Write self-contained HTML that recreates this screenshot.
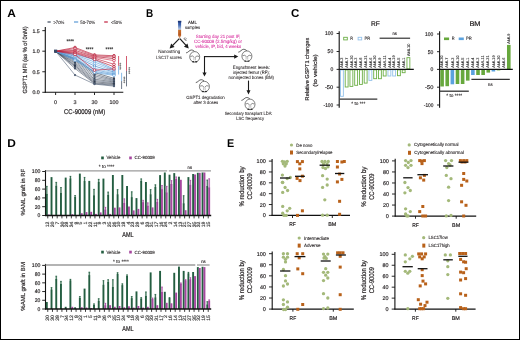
<!DOCTYPE html><html><head><meta charset="utf-8"><style>html,body{margin:0;padding:0;background:#fff;}svg{display:block;will-change:transform;text-rendering:geometricPrecision;font-family:"Liberation Sans",sans-serif;}</style></head><body>
<svg width="520" height="340" viewBox="0 0 520 340">
<rect x="0" y="0" width="520" height="340" fill="#fff"/>
<text x="7.3" y="16.5" font-size="11.4" fill="#000" font-weight="bold" textLength="8.6" lengthAdjust="spacingAndGlyphs">A</text>
<line x1="47.5" y1="22" x2="50.7" y2="22" stroke="#3e4a5e" stroke-width="1.2"/>
<text x="53.4" y="23.6" font-size="4.6" fill="#231f20" textLength="11" lengthAdjust="spacingAndGlyphs" stroke="#231f20" stroke-width="0.07">&gt;70%</text>
<line x1="74" y1="22" x2="78.2" y2="22" stroke="#5a9ad6" stroke-width="1.2"/>
<text x="80.3" y="23.6" font-size="4.6" fill="#231f20" textLength="14.8" lengthAdjust="spacingAndGlyphs" stroke="#231f20" stroke-width="0.07">50-70%</text>
<line x1="104.2" y1="22" x2="107.8" y2="22" stroke="#c01f3c" stroke-width="1.2"/>
<text x="111" y="23.6" font-size="4.6" fill="#231f20" textLength="11" lengthAdjust="spacingAndGlyphs" stroke="#231f20" stroke-width="0.07">&lt;50%</text>
<line x1="45.3" y1="27" x2="45.3" y2="92.8" stroke="#111" stroke-width="1.1"/>
<line x1="44.8" y1="92.3" x2="123.3" y2="92.3" stroke="#111" stroke-width="1.1"/>
<line x1="42.3" y1="30.65" x2="45.3" y2="30.65" stroke="#111" stroke-width="0.9"/>
<text x="39.7" y="32.55" font-size="5.2" fill="#231f20" text-anchor="end" textLength="7.3" lengthAdjust="spacingAndGlyphs" stroke="#231f20" stroke-width="0.16">1.5</text>
<line x1="42.3" y1="51.2" x2="45.3" y2="51.2" stroke="#111" stroke-width="0.9"/>
<text x="39.7" y="53.1" font-size="5.2" fill="#231f20" text-anchor="end" textLength="7.3" lengthAdjust="spacingAndGlyphs" stroke="#231f20" stroke-width="0.16">1.0</text>
<line x1="42.3" y1="71.75" x2="45.3" y2="71.75" stroke="#111" stroke-width="0.9"/>
<text x="39.7" y="73.65" font-size="5.2" fill="#231f20" text-anchor="end" textLength="7.3" lengthAdjust="spacingAndGlyphs" stroke="#231f20" stroke-width="0.16">0.5</text>
<line x1="42.3" y1="92.3" x2="45.3" y2="92.3" stroke="#111" stroke-width="0.9"/>
<text x="39.7" y="94.2" font-size="5.2" fill="#231f20" text-anchor="end" textLength="7.3" lengthAdjust="spacingAndGlyphs" stroke="#231f20" stroke-width="0.16">0.0</text>
<line x1="55.6" y1="92.3" x2="55.6" y2="95" stroke="#111" stroke-width="0.9"/>
<text x="55.6" y="103.5" font-size="5.4" fill="#231f20" text-anchor="middle" stroke="#231f20" stroke-width="0.16">0</text>
<line x1="75" y1="92.3" x2="75" y2="95" stroke="#111" stroke-width="0.9"/>
<text x="75" y="103.5" font-size="5.4" fill="#231f20" text-anchor="middle" stroke="#231f20" stroke-width="0.16">3</text>
<line x1="94.5" y1="92.3" x2="94.5" y2="95" stroke="#111" stroke-width="0.9"/>
<text x="94.5" y="103.5" font-size="5.4" fill="#231f20" text-anchor="middle" textLength="6" lengthAdjust="spacingAndGlyphs" stroke="#231f20" stroke-width="0.16">30</text>
<line x1="114" y1="92.3" x2="114" y2="95" stroke="#111" stroke-width="0.9"/>
<text x="114" y="103.5" font-size="5.4" fill="#231f20" text-anchor="middle" textLength="9" lengthAdjust="spacingAndGlyphs" stroke="#231f20" stroke-width="0.16">100</text>
<text x="84.6" y="114.1" font-size="6.9" fill="#231f20" text-anchor="middle" textLength="41.2" lengthAdjust="spacingAndGlyphs" stroke="#231f20" stroke-width="0.21">CC-90009 (nM)</text>
<text x="26.9" y="59.95" font-size="6" fill="#231f20" text-anchor="middle" textLength="67" lengthAdjust="spacingAndGlyphs" transform="rotate(-90 26.9 59.95)" stroke="#231f20" stroke-width="0.18">GSPT1 MFI (as % of 0nM)</text>
<polyline points="55.6,51.2 75,58.19 94.5,72.57 114,78.33" fill="none" stroke="#2f3a4c" stroke-width="0.6"/>
<circle cx="55.6" cy="51.2" r="1.15" fill="#2f3a4c"/>
<circle cx="75" cy="58.19" r="1.15" fill="#2f3a4c"/>
<circle cx="94.5" cy="72.57" r="1.15" fill="#2f3a4c"/>
<circle cx="114" cy="78.33" r="1.15" fill="#2f3a4c"/>
<polyline points="55.6,51.2 75,59.42 94.5,74.22 114,79.56" fill="none" stroke="#3b4759" stroke-width="0.6"/>
<circle cx="55.6" cy="51.2" r="1.15" fill="#3b4759"/>
<circle cx="75" cy="59.42" r="1.15" fill="#3b4759"/>
<circle cx="94.5" cy="74.22" r="1.15" fill="#3b4759"/>
<circle cx="114" cy="79.56" r="1.15" fill="#3b4759"/>
<polyline points="55.6,51.2 75,60.65 94.5,75.86 114,80.38" fill="none" stroke="#475468" stroke-width="0.6"/>
<circle cx="55.6" cy="51.2" r="1.15" fill="#475468"/>
<circle cx="75" cy="60.65" r="1.15" fill="#475468"/>
<circle cx="94.5" cy="75.86" r="1.15" fill="#475468"/>
<circle cx="114" cy="80.38" r="1.15" fill="#475468"/>
<polyline points="55.6,51.2 75,61.89 94.5,77.5 114,81.2" fill="none" stroke="#536177" stroke-width="0.6"/>
<circle cx="55.6" cy="51.2" r="1.15" fill="#536177"/>
<circle cx="75" cy="61.89" r="1.15" fill="#536177"/>
<circle cx="94.5" cy="77.5" r="1.15" fill="#536177"/>
<circle cx="114" cy="81.2" r="1.15" fill="#536177"/>
<polyline points="55.6,51.2 75,63.12 94.5,79.15 114,82.02" fill="none" stroke="#3a4656" stroke-width="0.6"/>
<circle cx="55.6" cy="51.2" r="1.15" fill="#3a4656"/>
<circle cx="75" cy="63.12" r="1.15" fill="#3a4656"/>
<circle cx="94.5" cy="79.15" r="1.15" fill="#3a4656"/>
<circle cx="114" cy="82.02" r="1.15" fill="#3a4656"/>
<polyline points="55.6,51.2 75,64.35 94.5,80.38 114,82.85" fill="none" stroke="#5c6a80" stroke-width="0.6"/>
<circle cx="55.6" cy="51.2" r="1.15" fill="#5c6a80"/>
<circle cx="75" cy="64.35" r="1.15" fill="#5c6a80"/>
<circle cx="94.5" cy="80.38" r="1.15" fill="#5c6a80"/>
<circle cx="114" cy="82.85" r="1.15" fill="#5c6a80"/>
<polyline points="55.6,51.2 75,65.58 94.5,81.61 114,83.67" fill="none" stroke="#2f3a4c" stroke-width="0.6"/>
<circle cx="55.6" cy="51.2" r="1.15" fill="#2f3a4c"/>
<circle cx="75" cy="65.58" r="1.15" fill="#2f3a4c"/>
<circle cx="94.5" cy="81.61" r="1.15" fill="#2f3a4c"/>
<circle cx="114" cy="83.67" r="1.15" fill="#2f3a4c"/>
<polyline points="55.6,51.2 75,66.82 94.5,82.85 114,84.49" fill="none" stroke="#3b4759" stroke-width="0.6"/>
<circle cx="55.6" cy="51.2" r="1.15" fill="#3b4759"/>
<circle cx="75" cy="66.82" r="1.15" fill="#3b4759"/>
<circle cx="94.5" cy="82.85" r="1.15" fill="#3b4759"/>
<circle cx="114" cy="84.49" r="1.15" fill="#3b4759"/>
<polyline points="55.6,51.2 75,68.46 94.5,83.67 114,85.31" fill="none" stroke="#475468" stroke-width="0.6"/>
<circle cx="55.6" cy="51.2" r="1.15" fill="#475468"/>
<circle cx="75" cy="68.46" r="1.15" fill="#475468"/>
<circle cx="94.5" cy="83.67" r="1.15" fill="#475468"/>
<circle cx="114" cy="85.31" r="1.15" fill="#475468"/>
<polyline points="55.6,51.2 75,75.04 94.5,84.08 114,86.13" fill="none" stroke="#536177" stroke-width="0.6"/>
<circle cx="55.6" cy="51.2" r="1.15" fill="#536177"/>
<circle cx="75" cy="75.04" r="1.15" fill="#536177"/>
<circle cx="94.5" cy="84.08" r="1.15" fill="#536177"/>
<circle cx="114" cy="86.13" r="1.15" fill="#536177"/>
<polyline points="55.6,51.2 75,54.08 94.5,59.83 114,69.28" fill="none" stroke="#4a8fd0" stroke-width="0.65"/>
<circle cx="75" cy="54.08" r="1.2" fill="#fff" stroke="#4a8fd0" stroke-width="0.7"/>
<circle cx="94.5" cy="59.83" r="1.2" fill="#fff" stroke="#4a8fd0" stroke-width="0.7"/>
<circle cx="114" cy="69.28" r="1.2" fill="#fff" stroke="#4a8fd0" stroke-width="0.7"/>
<polyline points="55.6,51.2 75,54.9 94.5,61.89 114,70.11" fill="none" stroke="#5fa0dc" stroke-width="0.65"/>
<circle cx="75" cy="54.9" r="1.2" fill="#fff" stroke="#5fa0dc" stroke-width="0.7"/>
<circle cx="94.5" cy="61.89" r="1.2" fill="#fff" stroke="#5fa0dc" stroke-width="0.7"/>
<circle cx="114" cy="70.11" r="1.2" fill="#fff" stroke="#5fa0dc" stroke-width="0.7"/>
<polyline points="55.6,51.2 75,55.72 94.5,63.94 114,70.93" fill="none" stroke="#7ab3e6" stroke-width="0.65"/>
<circle cx="75" cy="55.72" r="1.2" fill="#fff" stroke="#7ab3e6" stroke-width="0.7"/>
<circle cx="94.5" cy="63.94" r="1.2" fill="#fff" stroke="#7ab3e6" stroke-width="0.7"/>
<circle cx="114" cy="70.93" r="1.2" fill="#fff" stroke="#7ab3e6" stroke-width="0.7"/>
<polyline points="55.6,51.2 75,56.54 94.5,66 114,72.16" fill="none" stroke="#3f82c4" stroke-width="0.65"/>
<circle cx="75" cy="56.54" r="1.2" fill="#fff" stroke="#3f82c4" stroke-width="0.7"/>
<circle cx="94.5" cy="66" r="1.2" fill="#fff" stroke="#3f82c4" stroke-width="0.7"/>
<circle cx="114" cy="72.16" r="1.2" fill="#fff" stroke="#3f82c4" stroke-width="0.7"/>
<polyline points="55.6,51.2 75,57.78 94.5,68.05 114,72.98" fill="none" stroke="#8cc0ec" stroke-width="0.65"/>
<circle cx="75" cy="57.78" r="1.2" fill="#fff" stroke="#8cc0ec" stroke-width="0.7"/>
<circle cx="94.5" cy="68.05" r="1.2" fill="#fff" stroke="#8cc0ec" stroke-width="0.7"/>
<circle cx="114" cy="72.98" r="1.2" fill="#fff" stroke="#8cc0ec" stroke-width="0.7"/>
<polyline points="55.6,51.2 75,58.6 94.5,69.69 114,73.8" fill="none" stroke="#5598d6" stroke-width="0.65"/>
<circle cx="75" cy="58.6" r="1.2" fill="#fff" stroke="#5598d6" stroke-width="0.7"/>
<circle cx="94.5" cy="69.69" r="1.2" fill="#fff" stroke="#5598d6" stroke-width="0.7"/>
<circle cx="114" cy="73.8" r="1.2" fill="#fff" stroke="#5598d6" stroke-width="0.7"/>
<polyline points="55.6,51.2 75,59.42 94.5,71.34 114,74.63" fill="none" stroke="#4a8fd0" stroke-width="0.65"/>
<circle cx="75" cy="59.42" r="1.2" fill="#fff" stroke="#4a8fd0" stroke-width="0.7"/>
<circle cx="94.5" cy="71.34" r="1.2" fill="#fff" stroke="#4a8fd0" stroke-width="0.7"/>
<circle cx="114" cy="74.63" r="1.2" fill="#fff" stroke="#4a8fd0" stroke-width="0.7"/>
<polyline points="55.6,51.2 75,60.24 94.5,72.57 114,75.45" fill="none" stroke="#5fa0dc" stroke-width="0.65"/>
<circle cx="75" cy="60.24" r="1.2" fill="#fff" stroke="#5fa0dc" stroke-width="0.7"/>
<circle cx="94.5" cy="72.57" r="1.2" fill="#fff" stroke="#5fa0dc" stroke-width="0.7"/>
<circle cx="114" cy="75.45" r="1.2" fill="#fff" stroke="#5fa0dc" stroke-width="0.7"/>
<polyline points="55.6,51.2 75,47.5 94.5,54.9 114,55.72" fill="none" stroke="#b3142f" stroke-width="0.65"/>
<circle cx="75" cy="47.5" r="1.3" fill="#fff" stroke="#b3142f" stroke-width="0.8"/>
<circle cx="94.5" cy="54.9" r="1.3" fill="#fff" stroke="#b3142f" stroke-width="0.8"/>
<circle cx="114" cy="55.72" r="1.3" fill="#fff" stroke="#b3142f" stroke-width="0.8"/>
<polyline points="55.6,51.2 75,48.73 94.5,55.72 114,56.95" fill="none" stroke="#c42a45" stroke-width="0.65"/>
<circle cx="75" cy="48.73" r="1.3" fill="#fff" stroke="#c42a45" stroke-width="0.8"/>
<circle cx="94.5" cy="55.72" r="1.3" fill="#fff" stroke="#c42a45" stroke-width="0.8"/>
<circle cx="114" cy="56.95" r="1.3" fill="#fff" stroke="#c42a45" stroke-width="0.8"/>
<polyline points="55.6,51.2 75,50.38 94.5,56.54 114,58.6" fill="none" stroke="#a80f28" stroke-width="0.65"/>
<circle cx="75" cy="50.38" r="1.3" fill="#fff" stroke="#a80f28" stroke-width="0.8"/>
<circle cx="94.5" cy="56.54" r="1.3" fill="#fff" stroke="#a80f28" stroke-width="0.8"/>
<circle cx="114" cy="58.6" r="1.3" fill="#fff" stroke="#a80f28" stroke-width="0.8"/>
<polyline points="55.6,51.2 75,51.61 94.5,57.36 114,60.65" fill="none" stroke="#d03a55" stroke-width="0.65"/>
<circle cx="75" cy="51.61" r="1.3" fill="#fff" stroke="#d03a55" stroke-width="0.8"/>
<circle cx="94.5" cy="57.36" r="1.3" fill="#fff" stroke="#d03a55" stroke-width="0.8"/>
<circle cx="114" cy="60.65" r="1.3" fill="#fff" stroke="#d03a55" stroke-width="0.8"/>
<polyline points="55.6,51.2 75,52.43 94.5,58.19 114,64.35" fill="none" stroke="#be1e3b" stroke-width="0.65"/>
<circle cx="75" cy="52.43" r="1.3" fill="#fff" stroke="#be1e3b" stroke-width="0.8"/>
<circle cx="94.5" cy="58.19" r="1.3" fill="#fff" stroke="#be1e3b" stroke-width="0.8"/>
<circle cx="114" cy="64.35" r="1.3" fill="#fff" stroke="#be1e3b" stroke-width="0.8"/>
<polyline points="55.6,51.2 75,53.25 94.5,59.42 114,66.82" fill="none" stroke="#b3142f" stroke-width="0.65"/>
<circle cx="75" cy="53.25" r="1.3" fill="#fff" stroke="#b3142f" stroke-width="0.8"/>
<circle cx="94.5" cy="59.42" r="1.3" fill="#fff" stroke="#b3142f" stroke-width="0.8"/>
<circle cx="114" cy="66.82" r="1.3" fill="#fff" stroke="#b3142f" stroke-width="0.8"/>
<polyline points="55.6,51.2 75,54.49 94.5,70.11 114,68.87" fill="none" stroke="#c42a45" stroke-width="0.65"/>
<circle cx="75" cy="54.49" r="1.3" fill="#fff" stroke="#c42a45" stroke-width="0.8"/>
<circle cx="94.5" cy="70.11" r="1.3" fill="#fff" stroke="#c42a45" stroke-width="0.8"/>
<circle cx="114" cy="68.87" r="1.3" fill="#fff" stroke="#c42a45" stroke-width="0.8"/>
<rect x="54" y="49.6" width="3.2" height="3.2" fill="#3a4a66"/>
<text x="70.2" y="42.6" font-size="5.4" fill="#333" text-anchor="middle" textLength="7.6" lengthAdjust="spacingAndGlyphs" stroke="#333" stroke-width="0.16">****</text>
<text x="89.5" y="50.8" font-size="5.4" fill="#333" text-anchor="middle" textLength="7.6" lengthAdjust="spacingAndGlyphs" stroke="#333" stroke-width="0.16">****</text>
<text x="109.4" y="50.7" font-size="5.4" fill="#333" text-anchor="middle" textLength="7.6" lengthAdjust="spacingAndGlyphs" stroke="#333" stroke-width="0.16">****</text>
<line x1="118.6" y1="56" x2="118.6" y2="65.9" stroke="#c8304a" stroke-width="0.8"/>
<line x1="118.6" y1="65.9" x2="118.6" y2="74.5" stroke="#6aa8e0" stroke-width="0.8"/>
<line x1="121.6" y1="72.8" x2="121.6" y2="81.1" stroke="#6aa8e0" stroke-width="0.8"/>
<line x1="121.6" y1="81.1" x2="121.6" y2="89" stroke="#4a5568" stroke-width="0.8"/>
<line x1="126.5" y1="56" x2="126.5" y2="70.9" stroke="#c8304a" stroke-width="0.8"/>
<line x1="126.5" y1="70.9" x2="126.5" y2="86.4" stroke="#4a5568" stroke-width="0.8"/>
<text x="118.2" y="66.2" font-size="4.6" fill="#333" text-anchor="middle" textLength="6.8" lengthAdjust="spacingAndGlyphs" transform="rotate(90 118.2 66.2)" stroke="#333" stroke-width="0.11">****</text>
<text x="121.5" y="79.8" font-size="4.6" fill="#333" text-anchor="middle" textLength="6.8" lengthAdjust="spacingAndGlyphs" transform="rotate(90 121.5 79.8)" stroke="#333" stroke-width="0.11">****</text>
<text x="126.8" y="70.5" font-size="4.6" fill="#333" text-anchor="middle" textLength="6.8" lengthAdjust="spacingAndGlyphs" transform="rotate(90 126.8 70.5)" stroke="#333" stroke-width="0.11">****</text>
<text x="146" y="16.5" font-size="11.4" fill="#000" font-weight="bold" textLength="7.2" lengthAdjust="spacingAndGlyphs">B</text>
<defs><linearGradient id="tube" x1="0" y1="0" x2="0" y2="1"><stop offset="0" stop-color="#22408c"/><stop offset="0.22" stop-color="#3f66b0"/><stop offset="0.48" stop-color="#b7c9e4"/><stop offset="0.53" stop-color="#c8702e"/><stop offset="0.8" stop-color="#b8561c"/><stop offset="1" stop-color="#e0b890"/></linearGradient></defs>
<path d="M178.1,21 L181.1,21 L181.1,35.6 L179.9,38.3 L179.3,38.3 L178.1,35.6 Z" stroke="none" stroke-width="1" fill="url(#tube)"/>
<rect x="177.9" y="20.8" width="3.4" height="1.6" fill="#1d3778"/>
<text x="188" y="23.6" font-size="4.8" fill="#231f20" textLength="8.8" lengthAdjust="spacingAndGlyphs" stroke="#231f20" stroke-width="0.14">AML</text>
<text x="184.9" y="28.7" font-size="4.6" fill="#231f20" textLength="15.2" lengthAdjust="spacingAndGlyphs" stroke="#231f20" stroke-width="0.07">samples</text>
<line x1="179.3" y1="38.7" x2="172.48" y2="45.59" stroke="#1a1a1a" stroke-width="1.2"/>
<path d="M169.6,48.5 L171.13,43.54 L174.54,46.92 Z" stroke="none" stroke-width="1" fill="#1a1a1a"/>
<line x1="179.9" y1="38.7" x2="186.03" y2="45.38" stroke="#1a1a1a" stroke-width="1.2"/>
<path d="M188.8,48.4 L183.92,46.63 L187.46,43.39 Z" stroke="none" stroke-width="1" fill="#1a1a1a"/>
<text x="186.6" y="40.3" font-size="4.6" fill="#666" text-anchor="middle" textLength="2.8" lengthAdjust="spacingAndGlyphs" transform="rotate(-45 186.6 40.3)" stroke="#666" stroke-width="0.11">IF</text>
<text x="169.2" y="53.4" font-size="4.6" fill="#231f20" text-anchor="middle" textLength="22.1" lengthAdjust="spacingAndGlyphs" stroke="#231f20" stroke-width="0.05">Nanostring</text>
<text x="168.9" y="58.8" font-size="4.6" fill="#231f20" text-anchor="middle" textLength="25.8" lengthAdjust="spacingAndGlyphs" stroke="#231f20" stroke-width="0.05">LSC17 scores</text>
<text x="218.05" y="37.95" font-size="4.7" fill="#d8309f" text-anchor="middle" textLength="44.5" lengthAdjust="spacingAndGlyphs" stroke="#d8309f" stroke-width="0.08">Starting day 21 post IF,</text>
<text x="218" y="43.2" font-size="4.7" fill="#d8309f" text-anchor="middle" textLength="47.8" lengthAdjust="spacingAndGlyphs" stroke="#d8309f" stroke-width="0.08">CC-90009 (2.5mg/kg) or</text>
<text x="218.2" y="48.2" font-size="4.7" fill="#d8309f" text-anchor="middle" textLength="45.8" lengthAdjust="spacingAndGlyphs" stroke="#d8309f" stroke-width="0.08">vehicle, IP, bid, 4 weeks</text>
<path d="M186.1,52.9 C188.1,52.7 189.5,49.9 191.5,50 C193.1,50.1 194.1,50.9 194.6,51.5" stroke="#2a2a2a" stroke-width="0.75" fill="none"/>
<ellipse cx="194.7" cy="56.9" rx="5" ry="5.3" fill="#fff" stroke="#2a2a2a" stroke-width="0.6"/>
<path d="M190.4,56.5 Q192.5,54.9 194.4,57.5" stroke="#2a2a2a" stroke-width="0.55" fill="none"/>
<path d="M199,56.5 Q196.9,54.9 195,57.5" stroke="#2a2a2a" stroke-width="0.55" fill="none"/>
<path d="M193.9,57.8 L193.9,60.3" stroke="#666" stroke-width="0.4" fill="none"/>
<path d="M195.5,57.8 L195.5,60.3" stroke="#666" stroke-width="0.4" fill="none"/>
<ellipse cx="193.2" cy="61.8" rx="1.2" ry="0.7" fill="#2a2a2a"/>
<ellipse cx="196.2" cy="61.8" rx="1.2" ry="0.7" fill="#2a2a2a"/>
<path d="M238.3,52.2 C240.3,52 241.7,49.2 243.7,49.3 C245.3,49.4 246.3,50.2 246.8,50.8" stroke="#2a2a2a" stroke-width="0.75" fill="none"/>
<ellipse cx="246.9" cy="56.2" rx="5" ry="5.3" fill="#fff" stroke="#2a2a2a" stroke-width="0.6"/>
<path d="M242.6,55.8 Q244.7,54.2 246.6,56.8" stroke="#2a2a2a" stroke-width="0.55" fill="none"/>
<path d="M251.2,55.8 Q249.1,54.2 247.2,56.8" stroke="#2a2a2a" stroke-width="0.55" fill="none"/>
<path d="M246.1,57.1 L246.1,59.6" stroke="#666" stroke-width="0.4" fill="none"/>
<path d="M247.7,57.1 L247.7,59.6" stroke="#666" stroke-width="0.4" fill="none"/>
<ellipse cx="245.4" cy="61.1" rx="1.2" ry="0.7" fill="#2a2a2a"/>
<ellipse cx="248.4" cy="61.1" rx="1.2" ry="0.7" fill="#2a2a2a"/>
<path d="M195.8,82.6 C197.8,82.4 199.2,79.6 201.2,79.7 C202.8,79.8 203.8,80.6 204.3,81.2" stroke="#2a2a2a" stroke-width="0.75" fill="none"/>
<ellipse cx="204.4" cy="86.6" rx="5" ry="5.3" fill="#fff" stroke="#2a2a2a" stroke-width="0.6"/>
<path d="M200.1,86.2 Q202.2,84.6 204.1,87.2" stroke="#2a2a2a" stroke-width="0.55" fill="none"/>
<path d="M208.7,86.2 Q206.6,84.6 204.7,87.2" stroke="#2a2a2a" stroke-width="0.55" fill="none"/>
<path d="M203.6,87.5 L203.6,90" stroke="#666" stroke-width="0.4" fill="none"/>
<path d="M205.2,87.5 L205.2,90" stroke="#666" stroke-width="0.4" fill="none"/>
<ellipse cx="202.9" cy="91.5" rx="1.2" ry="0.7" fill="#2a2a2a"/>
<ellipse cx="205.9" cy="91.5" rx="1.2" ry="0.7" fill="#2a2a2a"/>
<path d="M241.4,100.4 C243.4,100.2 244.8,97.4 246.8,97.5 C248.4,97.6 249.4,98.4 249.9,99" stroke="#2a2a2a" stroke-width="0.75" fill="none"/>
<ellipse cx="250" cy="104.4" rx="5" ry="5.3" fill="#fff" stroke="#2a2a2a" stroke-width="0.6"/>
<path d="M245.7,104 Q247.8,102.4 249.7,105" stroke="#2a2a2a" stroke-width="0.55" fill="none"/>
<path d="M254.3,104 Q252.2,102.4 250.3,105" stroke="#2a2a2a" stroke-width="0.55" fill="none"/>
<path d="M249.2,105.3 L249.2,107.8" stroke="#666" stroke-width="0.4" fill="none"/>
<path d="M250.8,105.3 L250.8,107.8" stroke="#666" stroke-width="0.4" fill="none"/>
<ellipse cx="248.5" cy="109.3" rx="1.2" ry="0.7" fill="#2a2a2a"/>
<ellipse cx="251.5" cy="109.3" rx="1.2" ry="0.7" fill="#2a2a2a"/>
<line x1="204.5" y1="56.6" x2="235" y2="56.6" stroke="#1a1a1a" stroke-width="1.1"/>
<path d="M238.3,56.6 L234.2,54.5 L234.2,58.7 Z" stroke="none" stroke-width="1" fill="#1a1a1a"/>
<line x1="204.5" y1="56" x2="204.5" y2="73" stroke="#1a1a1a" stroke-width="1.1"/>
<path d="M204.5,76.6 L202.4,72.4 L206.6,72.4 Z" stroke="none" stroke-width="1" fill="#1a1a1a"/>
<line x1="248.5" y1="80.6" x2="248.5" y2="91" stroke="#1a1a1a" stroke-width="1.1"/>
<path d="M248.5,94.6 L246.5,90.2 L250.5,90.2 Z" stroke="none" stroke-width="1" fill="#1a1a1a"/>
<text x="251.4" y="68.7" font-size="4.6" fill="#231f20" text-anchor="middle" textLength="37.2" lengthAdjust="spacingAndGlyphs" stroke="#231f20" stroke-width="0.07">Engraftment levels:</text>
<text x="251.4" y="73.5" font-size="4.6" fill="#231f20" text-anchor="middle" textLength="36.6" lengthAdjust="spacingAndGlyphs" stroke="#231f20" stroke-width="0.07">injected femur (RF);</text>
<text x="251.3" y="78.7" font-size="4.6" fill="#231f20" text-anchor="middle" textLength="45.4" lengthAdjust="spacingAndGlyphs" stroke="#231f20" stroke-width="0.07">noninjected bones (BM)</text>
<text x="205.5" y="98.8" font-size="4.6" fill="#231f20" text-anchor="middle" textLength="38.6" lengthAdjust="spacingAndGlyphs" stroke="#231f20" stroke-width="0.07">GSPT1 degradation</text>
<text x="205.8" y="103.9" font-size="4.6" fill="#231f20" text-anchor="middle" textLength="24.8" lengthAdjust="spacingAndGlyphs" stroke="#231f20" stroke-width="0.07">after 3 doses</text>
<text x="248.6" y="115.4" font-size="4.6" fill="#231f20" text-anchor="middle" textLength="47.8" lengthAdjust="spacingAndGlyphs" stroke="#231f20" stroke-width="0.07">Secondary transplant LDA:</text>
<text x="250.1" y="120.4" font-size="4.6" fill="#231f20" text-anchor="middle" textLength="27.8" lengthAdjust="spacingAndGlyphs" stroke="#231f20" stroke-width="0.07">LSC frequency</text>
<text x="290.9" y="16.6" font-size="11.4" fill="#000" font-weight="bold" textLength="8.3" lengthAdjust="spacingAndGlyphs">C</text>
<line x1="339.2" y1="31.2" x2="339.2" y2="107.8" stroke="#111" stroke-width="1.1"/>
<line x1="336.6" y1="33.5" x2="339.2" y2="33.5" stroke="#111" stroke-width="0.9"/>
<text x="333.2" y="35.45" font-size="5.4" fill="#231f20" text-anchor="end" textLength="8.3" lengthAdjust="spacingAndGlyphs" stroke="#231f20" stroke-width="0.16">100</text>
<line x1="336.6" y1="51.5" x2="339.2" y2="51.5" stroke="#111" stroke-width="0.9"/>
<text x="333.2" y="53.45" font-size="5.4" fill="#231f20" text-anchor="end" textLength="5.6" lengthAdjust="spacingAndGlyphs" stroke="#231f20" stroke-width="0.16">50</text>
<line x1="336.6" y1="69.4" x2="339.2" y2="69.4" stroke="#111" stroke-width="0.9"/>
<text x="333.2" y="71.35" font-size="5.4" fill="#231f20" text-anchor="end" textLength="2.8" lengthAdjust="spacingAndGlyphs" stroke="#231f20" stroke-width="0.16">0</text>
<line x1="336.6" y1="87.2" x2="339.2" y2="87.2" stroke="#111" stroke-width="0.9"/>
<text x="333.2" y="89.15" font-size="5.4" fill="#231f20" text-anchor="end" textLength="8.3" lengthAdjust="spacingAndGlyphs" stroke="#231f20" stroke-width="0.16">-50</text>
<line x1="336.6" y1="105" x2="339.2" y2="105" stroke="#111" stroke-width="0.9"/>
<text x="333.2" y="106.95" font-size="5.4" fill="#231f20" text-anchor="end" textLength="9.6" lengthAdjust="spacingAndGlyphs" stroke="#231f20" stroke-width="0.16">-100</text>
<text x="375.3" y="25.7" font-size="6.9" fill="#231f20" text-anchor="middle" textLength="8.8" lengthAdjust="spacingAndGlyphs" stroke="#231f20" stroke-width="0.21">RF</text>
<rect x="340.45" y="69.9" width="2.9" height="26.4" fill="none" stroke="#93c1ea" stroke-width="0.9"/>
<text x="343.2" y="67.7" font-size="3.9" fill="#222" textLength="10.22" lengthAdjust="spacingAndGlyphs" transform="rotate(-90 343.2 67.7)" stroke="#222" stroke-width="0.08">AML2</text>
<rect x="345.2" y="69.9" width="2.9" height="17.1" fill="none" stroke="#6cae45" stroke-width="0.9"/>
<text x="347.95" y="67.7" font-size="3.9" fill="#222" textLength="10.22" lengthAdjust="spacingAndGlyphs" transform="rotate(-90 347.95 67.7)" stroke="#222" stroke-width="0.08">AML7</text>
<rect x="349.95" y="69.9" width="2.9" height="16.5" fill="none" stroke="#6cae45" stroke-width="0.9"/>
<text x="352.7" y="67.7" font-size="3.9" fill="#222" textLength="12.4" lengthAdjust="spacingAndGlyphs" transform="rotate(-90 352.7 67.7)" stroke="#222" stroke-width="0.08">AML30</text>
<rect x="354.7" y="69.9" width="2.9" height="15.4" fill="none" stroke="#6cae45" stroke-width="0.9"/>
<text x="357.45" y="67.7" font-size="3.9" fill="#222" textLength="10.22" lengthAdjust="spacingAndGlyphs" transform="rotate(-90 357.45 67.7)" stroke="#222" stroke-width="0.08">AML3</text>
<rect x="359.45" y="69.9" width="2.9" height="14.5" fill="none" stroke="#6cae45" stroke-width="0.9"/>
<text x="362.2" y="67.7" font-size="3.9" fill="#222" textLength="10.22" lengthAdjust="spacingAndGlyphs" transform="rotate(-90 362.2 67.7)" stroke="#222" stroke-width="0.08">AML8</text>
<rect x="364.2" y="69.9" width="2.9" height="13.2" fill="none" stroke="#6cae45" stroke-width="0.9"/>
<text x="366.95" y="67.7" font-size="3.9" fill="#222" textLength="12.4" lengthAdjust="spacingAndGlyphs" transform="rotate(-90 366.95 67.7)" stroke="#222" stroke-width="0.08">AML21</text>
<rect x="368.95" y="69.9" width="2.9" height="10.5" fill="none" stroke="#93c1ea" stroke-width="0.9"/>
<text x="371.7" y="67.7" font-size="3.9" fill="#222" textLength="10.22" lengthAdjust="spacingAndGlyphs" transform="rotate(-90 371.7 67.7)" stroke="#222" stroke-width="0.08">AML6</text>
<rect x="373.7" y="69.9" width="2.9" height="8.8" fill="none" stroke="#6cae45" stroke-width="0.9"/>
<text x="376.45" y="67.7" font-size="3.9" fill="#222" textLength="12.4" lengthAdjust="spacingAndGlyphs" transform="rotate(-90 376.45 67.7)" stroke="#222" stroke-width="0.08">AML20</text>
<rect x="378.45" y="69.9" width="2.9" height="8.8" fill="none" stroke="#6cae45" stroke-width="0.9"/>
<text x="381.2" y="67.7" font-size="3.9" fill="#222" textLength="10.22" lengthAdjust="spacingAndGlyphs" transform="rotate(-90 381.2 67.7)" stroke="#222" stroke-width="0.08">AML9</text>
<rect x="383.2" y="69.9" width="2.9" height="6.1" fill="none" stroke="#6cae45" stroke-width="0.9"/>
<text x="385.95" y="67.7" font-size="3.9" fill="#222" textLength="12.4" lengthAdjust="spacingAndGlyphs" transform="rotate(-90 385.95 67.7)" stroke="#222" stroke-width="0.08">AML11</text>
<rect x="387.95" y="69.9" width="2.9" height="6.1" fill="none" stroke="#93c1ea" stroke-width="0.9"/>
<text x="390.7" y="67.7" font-size="3.9" fill="#222" textLength="10.22" lengthAdjust="spacingAndGlyphs" transform="rotate(-90 390.7 67.7)" stroke="#222" stroke-width="0.08">AML4</text>
<rect x="392.7" y="69.9" width="2.9" height="6.1" fill="none" stroke="#93c1ea" stroke-width="0.9"/>
<text x="395.45" y="67.7" font-size="3.9" fill="#222" textLength="12.4" lengthAdjust="spacingAndGlyphs" transform="rotate(-90 395.45 67.7)" stroke="#222" stroke-width="0.08">AML19</text>
<rect x="397.45" y="69.9" width="2.9" height="5.8" fill="none" stroke="#6cae45" stroke-width="0.9"/>
<text x="400.2" y="67.7" font-size="3.9" fill="#222" textLength="10.22" lengthAdjust="spacingAndGlyphs" transform="rotate(-90 400.2 67.7)" stroke="#222" stroke-width="0.08">AML5</text>
<rect x="402.2" y="69.9" width="2.9" height="2.8" fill="none" stroke="#6cae45" stroke-width="0.9"/>
<text x="404.95" y="67.7" font-size="3.9" fill="#222" textLength="10.22" lengthAdjust="spacingAndGlyphs" transform="rotate(-90 404.95 67.7)" stroke="#222" stroke-width="0.08">AML1</text>
<rect x="406.95" y="57.65" width="2.9" height="11.2" fill="none" stroke="#6cae45" stroke-width="0.9"/>
<text x="409.7" y="56" font-size="3.9" fill="#222" textLength="12.4" lengthAdjust="spacingAndGlyphs" transform="rotate(-90 409.7 56)" stroke="#222" stroke-width="0.08">AML10</text>
<line x1="339.2" y1="69.3" x2="413.8" y2="69.3" stroke="#111" stroke-width="1.2"/>
<rect x="343.7" y="37.3" width="3.6" height="2.6" fill="none" stroke="#6cae45" stroke-width="0.9"/>
<text x="350.3" y="40.3" font-size="4.6" fill="#231f20" textLength="2.9" lengthAdjust="spacingAndGlyphs" stroke="#231f20" stroke-width="0.07">R</text>
<rect x="358.1" y="37.3" width="3.6" height="2.6" fill="none" stroke="#93c1ea" stroke-width="0.9"/>
<text x="364.4" y="40.3" font-size="4.6" fill="#231f20" textLength="5.9" lengthAdjust="spacingAndGlyphs" stroke="#231f20" stroke-width="0.07">PR</text>
<line x1="379.6" y1="38.2" x2="410.1" y2="38.2" stroke="#222" stroke-width="1.1"/>
<text x="394.6" y="35" font-size="4.7" fill="#231f20" text-anchor="middle" textLength="4.4" lengthAdjust="spacingAndGlyphs" stroke="#231f20" stroke-width="0.14">ns</text>
<line x1="339.7" y1="99.1" x2="377.3" y2="99.1" stroke="#333" stroke-width="1.3"/>
<text x="358.3" y="105.3" font-size="4.6" fill="#231f20" text-anchor="middle" textLength="14" lengthAdjust="spacingAndGlyphs" stroke="#231f20" stroke-width="0.11">* to ***</text>
<line x1="439.6" y1="31.2" x2="439.6" y2="107.8" stroke="#111" stroke-width="1.1"/>
<line x1="437" y1="34" x2="439.6" y2="34" stroke="#111" stroke-width="0.9"/>
<text x="433.4" y="35.95" font-size="5.4" fill="#231f20" text-anchor="end" textLength="8.3" lengthAdjust="spacingAndGlyphs" stroke="#231f20" stroke-width="0.16">100</text>
<line x1="437" y1="51.7" x2="439.6" y2="51.7" stroke="#111" stroke-width="0.9"/>
<text x="433.4" y="53.65" font-size="5.4" fill="#231f20" text-anchor="end" textLength="5.6" lengthAdjust="spacingAndGlyphs" stroke="#231f20" stroke-width="0.16">50</text>
<line x1="437" y1="69.4" x2="439.6" y2="69.4" stroke="#111" stroke-width="0.9"/>
<text x="433.4" y="71.35" font-size="5.4" fill="#231f20" text-anchor="end" textLength="2.8" lengthAdjust="spacingAndGlyphs" stroke="#231f20" stroke-width="0.16">0</text>
<line x1="437" y1="87.2" x2="439.6" y2="87.2" stroke="#111" stroke-width="0.9"/>
<text x="433.4" y="89.15" font-size="5.4" fill="#231f20" text-anchor="end" textLength="8.3" lengthAdjust="spacingAndGlyphs" stroke="#231f20" stroke-width="0.16">-50</text>
<line x1="437" y1="105" x2="439.6" y2="105" stroke="#111" stroke-width="0.9"/>
<text x="433.4" y="106.95" font-size="5.4" fill="#231f20" text-anchor="end" textLength="9.6" lengthAdjust="spacingAndGlyphs" stroke="#231f20" stroke-width="0.16">-100</text>
<text x="475" y="25.7" font-size="6.9" fill="#231f20" text-anchor="middle" textLength="11.2" lengthAdjust="spacingAndGlyphs" stroke="#231f20" stroke-width="0.21">BM</text>
<rect x="440.3" y="69.3" width="3.6" height="17.2" fill="#67a83d"/>
<text x="443.3" y="67.7" font-size="3.9" fill="#222" textLength="12.4" lengthAdjust="spacingAndGlyphs" transform="rotate(-90 443.3 67.7)" stroke="#222" stroke-width="0.08">AML30</text>
<rect x="445.43" y="69.3" width="3.6" height="16.9" fill="#67a83d"/>
<text x="448.43" y="67.7" font-size="3.9" fill="#222" textLength="10.22" lengthAdjust="spacingAndGlyphs" transform="rotate(-90 448.43 67.7)" stroke="#222" stroke-width="0.08">AML7</text>
<rect x="450.56" y="69.3" width="3.6" height="15" fill="#5ba2de"/>
<text x="453.56" y="67.7" font-size="3.9" fill="#222" textLength="10.22" lengthAdjust="spacingAndGlyphs" transform="rotate(-90 453.56 67.7)" stroke="#222" stroke-width="0.08">AML2</text>
<rect x="455.69" y="69.3" width="3.6" height="14.7" fill="#67a83d"/>
<text x="458.69" y="67.7" font-size="3.9" fill="#222" textLength="12.4" lengthAdjust="spacingAndGlyphs" transform="rotate(-90 458.69 67.7)" stroke="#222" stroke-width="0.08">AML10</text>
<rect x="460.82" y="69.3" width="3.6" height="14.7" fill="#67a83d"/>
<text x="463.82" y="67.7" font-size="3.9" fill="#222" textLength="10.22" lengthAdjust="spacingAndGlyphs" transform="rotate(-90 463.82 67.7)" stroke="#222" stroke-width="0.08">AML5</text>
<rect x="465.95" y="69.3" width="3.6" height="11.3" fill="#67a83d"/>
<text x="468.95" y="67.7" font-size="3.9" fill="#222" textLength="10.22" lengthAdjust="spacingAndGlyphs" transform="rotate(-90 468.95 67.7)" stroke="#222" stroke-width="0.08">AML1</text>
<rect x="471.08" y="69.3" width="3.6" height="5.7" fill="#5ba2de"/>
<text x="474.08" y="67.7" font-size="3.9" fill="#222" textLength="10.22" lengthAdjust="spacingAndGlyphs" transform="rotate(-90 474.08 67.7)" stroke="#222" stroke-width="0.08">AML4</text>
<rect x="476.21" y="69.3" width="3.6" height="5.7" fill="#67a83d"/>
<text x="479.21" y="67.7" font-size="3.9" fill="#222" textLength="10.22" lengthAdjust="spacingAndGlyphs" transform="rotate(-90 479.21 67.7)" stroke="#222" stroke-width="0.08">AML3</text>
<rect x="481.34" y="69.3" width="3.6" height="5.7" fill="#67a83d"/>
<text x="484.34" y="67.7" font-size="3.9" fill="#222" textLength="12.4" lengthAdjust="spacingAndGlyphs" transform="rotate(-90 484.34 67.7)" stroke="#222" stroke-width="0.08">AML11</text>
<rect x="486.47" y="69.3" width="3.6" height="3.3" fill="#67a83d"/>
<text x="489.47" y="67.7" font-size="3.9" fill="#222" textLength="12.4" lengthAdjust="spacingAndGlyphs" transform="rotate(-90 489.47 67.7)" stroke="#222" stroke-width="0.08">AML21</text>
<rect x="491.6" y="69.3" width="3.6" height="2.2" fill="#5ba2de"/>
<text x="494.6" y="67.7" font-size="3.9" fill="#222" textLength="12.4" lengthAdjust="spacingAndGlyphs" transform="rotate(-90 494.6 67.7)" stroke="#222" stroke-width="0.08">AML19</text>
<rect x="496.73" y="69.3" width="3.6" height="1.1" fill="#67a83d"/>
<text x="499.73" y="67.7" font-size="3.9" fill="#222" textLength="12.4" lengthAdjust="spacingAndGlyphs" transform="rotate(-90 499.73 67.7)" stroke="#222" stroke-width="0.08">AML20</text>
<rect x="501.86" y="69.3" width="3.6" height="0.3" fill="#67a83d"/>
<text x="504.86" y="67.7" font-size="3.9" fill="#222" textLength="10.22" lengthAdjust="spacingAndGlyphs" transform="rotate(-90 504.86 67.7)" stroke="#222" stroke-width="0.08">AML6</text>
<rect x="506.99" y="44.9" width="3.6" height="24.4" fill="#67a83d"/>
<text x="509.99" y="43.7" font-size="3.9" fill="#222" textLength="10.22" lengthAdjust="spacingAndGlyphs" transform="rotate(-90 509.99 43.7)" stroke="#222" stroke-width="0.08">AML9</text>
<line x1="439.6" y1="69.3" x2="512.8" y2="69.3" stroke="#111" stroke-width="1.2"/>
<rect x="444" y="37.5" width="5.1" height="2.6" fill="#67a83d"/>
<text x="451.8" y="40.3" font-size="4.6" fill="#231f20" textLength="2.9" lengthAdjust="spacingAndGlyphs" stroke="#231f20" stroke-width="0.07">R</text>
<rect x="458.7" y="37.5" width="5.1" height="2.6" fill="#5ba2de"/>
<text x="466" y="40.3" font-size="4.6" fill="#231f20" textLength="5.9" lengthAdjust="spacingAndGlyphs" stroke="#231f20" stroke-width="0.07">PR</text>
<line x1="440" y1="91.2" x2="468.8" y2="91.2" stroke="#333" stroke-width="1.3"/>
<text x="454.2" y="97.2" font-size="4.6" fill="#231f20" text-anchor="middle" textLength="16" lengthAdjust="spacingAndGlyphs" stroke="#231f20" stroke-width="0.11">* to ****</text>
<line x1="471.4" y1="79.3" x2="509.8" y2="79.3" stroke="#333" stroke-width="1.3"/>
<text x="490.3" y="85.9" font-size="4.7" fill="#231f20" text-anchor="middle" textLength="4.4" lengthAdjust="spacingAndGlyphs" stroke="#231f20" stroke-width="0.14">ns</text>
<text x="308.8" y="69.1" font-size="5.6" fill="#231f20" text-anchor="middle" textLength="62.6" lengthAdjust="spacingAndGlyphs" transform="rotate(-90 308.8 69.1)" stroke="#231f20" stroke-width="0.17">Relative GSPT1 changes</text>
<text x="317.1" y="70.45" font-size="5.6" fill="#231f20" text-anchor="middle" textLength="32.5" lengthAdjust="spacingAndGlyphs" transform="rotate(-90 317.1 70.45)" stroke="#231f20" stroke-width="0.17">(to vehicle)</text>
<text x="7.3" y="146.8" font-size="11.4" fill="#000" font-weight="bold" textLength="8.6" lengthAdjust="spacingAndGlyphs">D</text>
<line x1="45.5" y1="170" x2="45.5" y2="216" stroke="#111" stroke-width="1.1"/>
<line x1="42.2" y1="215.5" x2="45.5" y2="215.5" stroke="#111" stroke-width="0.9"/>
<text x="40.4" y="217.4" font-size="5.3" fill="#231f20" text-anchor="end" textLength="2.8" lengthAdjust="spacingAndGlyphs" stroke="#231f20" stroke-width="0.16">0</text>
<line x1="42.2" y1="206.7" x2="45.5" y2="206.7" stroke="#111" stroke-width="0.9"/>
<text x="40.4" y="208.6" font-size="5.3" fill="#231f20" text-anchor="end" textLength="5.6" lengthAdjust="spacingAndGlyphs" stroke="#231f20" stroke-width="0.16">20</text>
<line x1="42.2" y1="197.9" x2="45.5" y2="197.9" stroke="#111" stroke-width="0.9"/>
<text x="40.4" y="199.8" font-size="5.3" fill="#231f20" text-anchor="end" textLength="5.6" lengthAdjust="spacingAndGlyphs" stroke="#231f20" stroke-width="0.16">40</text>
<line x1="42.2" y1="189.1" x2="45.5" y2="189.1" stroke="#111" stroke-width="0.9"/>
<text x="40.4" y="191" font-size="5.3" fill="#231f20" text-anchor="end" textLength="5.6" lengthAdjust="spacingAndGlyphs" stroke="#231f20" stroke-width="0.16">60</text>
<line x1="42.2" y1="180.3" x2="45.5" y2="180.3" stroke="#111" stroke-width="0.9"/>
<text x="40.4" y="182.2" font-size="5.3" fill="#231f20" text-anchor="end" textLength="5.6" lengthAdjust="spacingAndGlyphs" stroke="#231f20" stroke-width="0.16">80</text>
<line x1="42.2" y1="171.5" x2="45.5" y2="171.5" stroke="#111" stroke-width="0.9"/>
<text x="40.4" y="173.4" font-size="5.3" fill="#231f20" text-anchor="end" textLength="8.6" lengthAdjust="spacingAndGlyphs" stroke="#231f20" stroke-width="0.16">100</text>
<text x="25.3" y="192.2" font-size="5.9" fill="#231f20" text-anchor="middle" textLength="46.6" lengthAdjust="spacingAndGlyphs" transform="rotate(-90 25.3 192.2)" stroke="#231f20" stroke-width="0.18">%AML graft in RF</text>
<rect x="45.85" y="193.7" width="1.9" height="21.8" fill="#245e41"/>
<rect x="45.85" y="186" width="1.9" height="7.7" fill="#b4cdbf"/>
<rect x="46.4" y="186" width="0.8" height="9.2" fill="#245e41"/>
<line x1="45.95" y1="186.3" x2="47.65" y2="186.3" stroke="#245e41" stroke-width="0.6"/>
<rect x="47.75" y="214.6" width="1.9" height="0.9" fill="#a6479f"/>
<line x1="47.75" y1="215.5" x2="47.75" y2="218.4" stroke="#111" stroke-width="0.8"/>
<text x="49.45" y="221.6" font-size="4.9" fill="#333" text-anchor="end" textLength="5.7" lengthAdjust="spacingAndGlyphs" transform="rotate(-90 49.45 221.6)" stroke="#333" stroke-width="0.15">12</text>
<rect x="50.57" y="177.1" width="1.9" height="38.4" fill="#245e41"/>
<line x1="52.47" y1="215.5" x2="52.47" y2="218.4" stroke="#111" stroke-width="0.8"/>
<text x="54.17" y="221.6" font-size="4.9" fill="#333" text-anchor="end" textLength="5.7" lengthAdjust="spacingAndGlyphs" transform="rotate(-90 54.17 221.6)" stroke="#333" stroke-width="0.15">20</text>
<rect x="55.29" y="185.6" width="1.9" height="29.9" fill="#245e41"/>
<rect x="55.29" y="182" width="1.9" height="3.6" fill="#b4cdbf"/>
<rect x="55.84" y="182" width="0.8" height="5.1" fill="#245e41"/>
<line x1="55.39" y1="182.3" x2="57.09" y2="182.3" stroke="#245e41" stroke-width="0.6"/>
<line x1="57.19" y1="215.5" x2="57.19" y2="218.4" stroke="#111" stroke-width="0.8"/>
<text x="58.89" y="221.6" font-size="4.9" fill="#333" text-anchor="end" textLength="2.85" lengthAdjust="spacingAndGlyphs" transform="rotate(-90 58.89 221.6)" stroke="#333" stroke-width="0.15">7</text>
<rect x="60.01" y="193" width="1.9" height="22.5" fill="#245e41"/>
<rect x="60.01" y="187.2" width="1.9" height="5.8" fill="#b4cdbf"/>
<rect x="60.56" y="187.2" width="0.8" height="7.3" fill="#245e41"/>
<line x1="60.11" y1="187.5" x2="61.81" y2="187.5" stroke="#245e41" stroke-width="0.6"/>
<line x1="61.91" y1="215.5" x2="61.91" y2="218.4" stroke="#111" stroke-width="0.8"/>
<text x="63.61" y="221.6" font-size="4.9" fill="#333" text-anchor="end" textLength="5.7" lengthAdjust="spacingAndGlyphs" transform="rotate(-90 63.61 221.6)" stroke="#333" stroke-width="0.15">30</text>
<rect x="64.73" y="177.6" width="1.9" height="37.9" fill="#245e41"/>
<line x1="66.63" y1="215.5" x2="66.63" y2="218.4" stroke="#111" stroke-width="0.8"/>
<text x="68.33" y="221.6" font-size="4.9" fill="#333" text-anchor="end" textLength="5.7" lengthAdjust="spacingAndGlyphs" transform="rotate(-90 68.33 221.6)" stroke="#333" stroke-width="0.15">28</text>
<rect x="69.45" y="178.3" width="1.9" height="37.2" fill="#245e41"/>
<rect x="69.45" y="176" width="1.9" height="2.3" fill="#b4cdbf"/>
<rect x="70" y="176" width="0.8" height="3.8" fill="#245e41"/>
<line x1="69.55" y1="176.3" x2="71.25" y2="176.3" stroke="#245e41" stroke-width="0.6"/>
<rect x="71.35" y="214.2" width="1.9" height="1.3" fill="#a6479f"/>
<line x1="71.35" y1="215.5" x2="71.35" y2="218.4" stroke="#111" stroke-width="0.8"/>
<text x="73.05" y="221.6" font-size="4.9" fill="#333" text-anchor="end" textLength="5.7" lengthAdjust="spacingAndGlyphs" transform="rotate(-90 73.05 221.6)" stroke="#333" stroke-width="0.15">34</text>
<rect x="74.17" y="196.7" width="1.9" height="18.8" fill="#245e41"/>
<rect x="74.17" y="195.2" width="1.9" height="1.5" fill="#b4cdbf"/>
<rect x="74.72" y="195.2" width="0.8" height="3" fill="#245e41"/>
<line x1="74.27" y1="195.5" x2="75.97" y2="195.5" stroke="#245e41" stroke-width="0.6"/>
<line x1="76.07" y1="215.5" x2="76.07" y2="218.4" stroke="#111" stroke-width="0.8"/>
<text x="77.77" y="221.6" font-size="4.9" fill="#333" text-anchor="end" textLength="2.85" lengthAdjust="spacingAndGlyphs" transform="rotate(-90 77.77 221.6)" stroke="#333" stroke-width="0.15">8</text>
<rect x="78.89" y="173.6" width="1.9" height="41.9" fill="#245e41"/>
<rect x="80.79" y="213.2" width="1.9" height="2.3" fill="#a6479f"/>
<line x1="80.79" y1="215.5" x2="80.79" y2="218.4" stroke="#111" stroke-width="0.8"/>
<text x="82.49" y="221.6" font-size="4.9" fill="#333" text-anchor="end" textLength="2.85" lengthAdjust="spacingAndGlyphs" transform="rotate(-90 82.49 221.6)" stroke="#333" stroke-width="0.15">5</text>
<rect x="83.61" y="180.9" width="1.9" height="34.6" fill="#245e41"/>
<rect x="83.61" y="177.1" width="1.9" height="3.8" fill="#b4cdbf"/>
<rect x="84.16" y="177.1" width="0.8" height="5.3" fill="#245e41"/>
<line x1="83.71" y1="177.4" x2="85.41" y2="177.4" stroke="#245e41" stroke-width="0.6"/>
<rect x="85.51" y="212.1" width="1.9" height="3.4" fill="#a6479f"/>
<line x1="85.51" y1="215.5" x2="85.51" y2="218.4" stroke="#111" stroke-width="0.8"/>
<text x="87.21" y="221.6" font-size="4.9" fill="#333" text-anchor="end" textLength="2.85" lengthAdjust="spacingAndGlyphs" transform="rotate(-90 87.21 221.6)" stroke="#333" stroke-width="0.15">1</text>
<rect x="88.33" y="180.9" width="1.9" height="34.6" fill="#245e41"/>
<rect x="90.23" y="211.8" width="1.9" height="3.7" fill="#a6479f"/>
<line x1="90.23" y1="215.5" x2="90.23" y2="218.4" stroke="#111" stroke-width="0.8"/>
<text x="91.93" y="221.6" font-size="4.9" fill="#333" text-anchor="end" textLength="5.7" lengthAdjust="spacingAndGlyphs" transform="rotate(-90 91.93 221.6)" stroke="#333" stroke-width="0.15">22</text>
<rect x="93.05" y="195.2" width="1.9" height="20.3" fill="#245e41"/>
<rect x="93.05" y="189" width="1.9" height="6.2" fill="#b4cdbf"/>
<rect x="93.6" y="189" width="0.8" height="7.7" fill="#245e41"/>
<line x1="93.15" y1="189.3" x2="94.85" y2="189.3" stroke="#245e41" stroke-width="0.6"/>
<rect x="94.95" y="213.9" width="1.9" height="1.6" fill="#a6479f"/>
<line x1="94.95" y1="215.5" x2="94.95" y2="218.4" stroke="#111" stroke-width="0.8"/>
<text x="96.65" y="221.6" font-size="4.9" fill="#333" text-anchor="end" textLength="5.7" lengthAdjust="spacingAndGlyphs" transform="rotate(-90 96.65 221.6)" stroke="#333" stroke-width="0.15">11</text>
<rect x="97.77" y="182" width="1.9" height="33.5" fill="#245e41"/>
<rect x="97.77" y="179" width="1.9" height="3" fill="#b4cdbf"/>
<rect x="98.32" y="179" width="0.8" height="4.5" fill="#245e41"/>
<line x1="97.87" y1="179.3" x2="99.57" y2="179.3" stroke="#245e41" stroke-width="0.6"/>
<rect x="99.67" y="212.4" width="1.9" height="3.1" fill="#a6479f"/>
<line x1="99.67" y1="215.5" x2="99.67" y2="218.4" stroke="#111" stroke-width="0.8"/>
<text x="101.37" y="221.6" font-size="4.9" fill="#333" text-anchor="end" textLength="2.85" lengthAdjust="spacingAndGlyphs" transform="rotate(-90 101.37 221.6)" stroke="#333" stroke-width="0.15">9</text>
<rect x="102.49" y="178.6" width="1.9" height="36.9" fill="#245e41"/>
<rect x="104.39" y="209.5" width="1.9" height="6" fill="#a6479f"/>
<rect x="104.39" y="207" width="1.9" height="2.5" fill="#e6c3e2"/>
<rect x="104.94" y="207" width="0.8" height="4" fill="#a6479f"/>
<line x1="104.49" y1="207.3" x2="106.19" y2="207.3" stroke="#a6479f" stroke-width="0.6"/>
<line x1="104.39" y1="215.5" x2="104.39" y2="218.4" stroke="#111" stroke-width="0.8"/>
<text x="106.09" y="221.6" font-size="4.9" fill="#333" text-anchor="end" textLength="2.85" lengthAdjust="spacingAndGlyphs" transform="rotate(-90 106.09 221.6)" stroke="#333" stroke-width="0.15">3</text>
<rect x="107.21" y="194.8" width="1.9" height="20.7" fill="#245e41"/>
<rect x="107.21" y="191.8" width="1.9" height="3" fill="#b4cdbf"/>
<rect x="107.76" y="191.8" width="0.8" height="4.5" fill="#245e41"/>
<line x1="107.31" y1="192.1" x2="109.01" y2="192.1" stroke="#245e41" stroke-width="0.6"/>
<rect x="109.11" y="213.9" width="1.9" height="1.6" fill="#a6479f"/>
<line x1="109.11" y1="215.5" x2="109.11" y2="218.4" stroke="#111" stroke-width="0.8"/>
<text x="110.81" y="221.6" font-size="4.9" fill="#333" text-anchor="end" textLength="5.7" lengthAdjust="spacingAndGlyphs" transform="rotate(-90 110.81 221.6)" stroke="#333" stroke-width="0.15">25</text>
<rect x="111.93" y="175" width="1.9" height="40.5" fill="#245e41"/>
<rect x="113.83" y="207.7" width="1.9" height="7.8" fill="#a6479f"/>
<line x1="113.83" y1="215.5" x2="113.83" y2="218.4" stroke="#111" stroke-width="0.8"/>
<text x="115.53" y="221.6" font-size="4.9" fill="#333" text-anchor="end" textLength="5.7" lengthAdjust="spacingAndGlyphs" transform="rotate(-90 115.53 221.6)" stroke="#333" stroke-width="0.15">26</text>
<rect x="116.65" y="194.2" width="1.9" height="21.3" fill="#245e41"/>
<rect x="116.65" y="189.3" width="1.9" height="4.9" fill="#b4cdbf"/>
<rect x="117.2" y="189.3" width="0.8" height="6.4" fill="#245e41"/>
<line x1="116.75" y1="189.6" x2="118.45" y2="189.6" stroke="#245e41" stroke-width="0.6"/>
<rect x="118.55" y="207.4" width="1.9" height="8.1" fill="#a6479f"/>
<line x1="118.55" y1="215.5" x2="118.55" y2="218.4" stroke="#111" stroke-width="0.8"/>
<text x="120.25" y="221.6" font-size="4.9" fill="#333" text-anchor="end" textLength="5.7" lengthAdjust="spacingAndGlyphs" transform="rotate(-90 120.25 221.6)" stroke="#333" stroke-width="0.15">10</text>
<rect x="121.37" y="175" width="1.9" height="40.5" fill="#245e41"/>
<rect x="123.27" y="203" width="1.9" height="12.5" fill="#a6479f"/>
<rect x="123.27" y="198.6" width="1.9" height="4.4" fill="#e6c3e2"/>
<rect x="123.82" y="198.6" width="0.8" height="5.9" fill="#a6479f"/>
<line x1="123.37" y1="198.9" x2="125.07" y2="198.9" stroke="#a6479f" stroke-width="0.6"/>
<line x1="123.27" y1="215.5" x2="123.27" y2="218.4" stroke="#111" stroke-width="0.8"/>
<text x="124.97" y="221.6" font-size="4.9" fill="#333" text-anchor="end" textLength="5.7" lengthAdjust="spacingAndGlyphs" transform="rotate(-90 124.97 221.6)" stroke="#333" stroke-width="0.15">18</text>
<rect x="126.09" y="186" width="1.9" height="29.5" fill="#245e41"/>
<rect x="127.99" y="206.5" width="1.9" height="9" fill="#a6479f"/>
<line x1="127.99" y1="215.5" x2="127.99" y2="218.4" stroke="#111" stroke-width="0.8"/>
<text x="129.69" y="221.6" font-size="4.9" fill="#333" text-anchor="end" textLength="2.85" lengthAdjust="spacingAndGlyphs" transform="rotate(-90 129.69 221.6)" stroke="#333" stroke-width="0.15">4</text>
<rect x="130.81" y="197.1" width="1.9" height="18.4" fill="#245e41"/>
<rect x="130.81" y="191.5" width="1.9" height="5.6" fill="#b4cdbf"/>
<rect x="131.36" y="191.5" width="0.8" height="7.1" fill="#245e41"/>
<line x1="130.91" y1="191.8" x2="132.61" y2="191.8" stroke="#245e41" stroke-width="0.6"/>
<rect x="132.71" y="210.4" width="1.9" height="5.1" fill="#a6479f"/>
<line x1="132.71" y1="215.5" x2="132.71" y2="218.4" stroke="#111" stroke-width="0.8"/>
<text x="134.41" y="221.6" font-size="4.9" fill="#333" text-anchor="end" textLength="5.7" lengthAdjust="spacingAndGlyphs" transform="rotate(-90 134.41 221.6)" stroke="#333" stroke-width="0.15">23</text>
<rect x="135.53" y="198.1" width="1.9" height="17.4" fill="#245e41"/>
<rect x="137.43" y="208.9" width="1.9" height="6.6" fill="#a6479f"/>
<line x1="137.43" y1="215.5" x2="137.43" y2="218.4" stroke="#111" stroke-width="0.8"/>
<text x="139.13" y="221.6" font-size="4.9" fill="#333" text-anchor="end" textLength="5.7" lengthAdjust="spacingAndGlyphs" transform="rotate(-90 139.13 221.6)" stroke="#333" stroke-width="0.15">29</text>
<rect x="140.25" y="181" width="1.9" height="34.5" fill="#245e41"/>
<rect x="140.25" y="178.6" width="1.9" height="2.4" fill="#b4cdbf"/>
<rect x="140.8" y="178.6" width="0.8" height="3.9" fill="#245e41"/>
<line x1="140.35" y1="178.9" x2="142.05" y2="178.9" stroke="#245e41" stroke-width="0.6"/>
<rect x="142.15" y="202.1" width="1.9" height="13.4" fill="#a6479f"/>
<rect x="142.15" y="200" width="1.9" height="2.1" fill="#e6c3e2"/>
<rect x="142.7" y="200" width="0.8" height="3.6" fill="#a6479f"/>
<line x1="142.25" y1="200.3" x2="143.95" y2="200.3" stroke="#a6479f" stroke-width="0.6"/>
<line x1="142.15" y1="215.5" x2="142.15" y2="218.4" stroke="#111" stroke-width="0.8"/>
<text x="143.85" y="221.6" font-size="4.9" fill="#333" text-anchor="end" textLength="2.85" lengthAdjust="spacingAndGlyphs" transform="rotate(-90 143.85 221.6)" stroke="#333" stroke-width="0.15">6</text>
<rect x="144.97" y="182" width="1.9" height="33.5" fill="#245e41"/>
<rect x="146.87" y="205.5" width="1.9" height="10" fill="#a6479f"/>
<rect x="146.87" y="202.6" width="1.9" height="2.9" fill="#e6c3e2"/>
<rect x="147.42" y="202.6" width="0.8" height="4.4" fill="#a6479f"/>
<line x1="146.97" y1="202.9" x2="148.67" y2="202.9" stroke="#a6479f" stroke-width="0.6"/>
<line x1="146.87" y1="215.5" x2="146.87" y2="218.4" stroke="#111" stroke-width="0.8"/>
<text x="148.57" y="221.6" font-size="4.9" fill="#333" text-anchor="end" textLength="5.7" lengthAdjust="spacingAndGlyphs" transform="rotate(-90 148.57 221.6)" stroke="#333" stroke-width="0.15">33</text>
<rect x="149.69" y="194.2" width="1.9" height="21.3" fill="#245e41"/>
<rect x="149.69" y="189.3" width="1.9" height="4.9" fill="#b4cdbf"/>
<rect x="150.24" y="189.3" width="0.8" height="6.4" fill="#245e41"/>
<line x1="149.79" y1="189.6" x2="151.49" y2="189.6" stroke="#245e41" stroke-width="0.6"/>
<rect x="151.59" y="207.4" width="1.9" height="8.1" fill="#a6479f"/>
<line x1="151.59" y1="215.5" x2="151.59" y2="218.4" stroke="#111" stroke-width="0.8"/>
<text x="153.29" y="221.6" font-size="4.9" fill="#333" text-anchor="end" textLength="5.7" lengthAdjust="spacingAndGlyphs" transform="rotate(-90 153.29 221.6)" stroke="#333" stroke-width="0.15">31</text>
<rect x="154.41" y="187" width="1.9" height="28.5" fill="#245e41"/>
<rect x="154.41" y="184.5" width="1.9" height="2.5" fill="#b4cdbf"/>
<rect x="154.96" y="184.5" width="0.8" height="4" fill="#245e41"/>
<line x1="154.51" y1="184.8" x2="156.21" y2="184.8" stroke="#245e41" stroke-width="0.6"/>
<rect x="156.31" y="202" width="1.9" height="13.5" fill="#a6479f"/>
<rect x="156.31" y="199" width="1.9" height="3" fill="#e6c3e2"/>
<rect x="156.86" y="199" width="0.8" height="4.5" fill="#a6479f"/>
<line x1="156.41" y1="199.3" x2="158.11" y2="199.3" stroke="#a6479f" stroke-width="0.6"/>
<line x1="156.31" y1="215.5" x2="156.31" y2="218.4" stroke="#111" stroke-width="0.8"/>
<text x="158.01" y="221.6" font-size="4.9" fill="#333" text-anchor="end" textLength="5.7" lengthAdjust="spacingAndGlyphs" transform="rotate(-90 158.01 221.6)" stroke="#333" stroke-width="0.15">17</text>
<rect x="159.13" y="175.1" width="1.9" height="40.4" fill="#245e41"/>
<rect x="161.03" y="189.1" width="1.9" height="26.4" fill="#a6479f"/>
<rect x="161.03" y="185.2" width="1.9" height="3.9" fill="#e6c3e2"/>
<rect x="161.58" y="185.2" width="0.8" height="5.4" fill="#a6479f"/>
<line x1="161.13" y1="185.5" x2="162.83" y2="185.5" stroke="#a6479f" stroke-width="0.6"/>
<line x1="161.03" y1="215.5" x2="161.03" y2="218.4" stroke="#111" stroke-width="0.8"/>
<text x="162.73" y="221.6" font-size="4.9" fill="#333" text-anchor="end" textLength="5.7" lengthAdjust="spacingAndGlyphs" transform="rotate(-90 162.73 221.6)" stroke="#333" stroke-width="0.15">16</text>
<rect x="163.85" y="172.5" width="1.9" height="43" fill="#245e41"/>
<rect x="165.75" y="192.3" width="1.9" height="23.2" fill="#a6479f"/>
<rect x="165.75" y="186" width="1.9" height="6.3" fill="#e6c3e2"/>
<rect x="166.3" y="186" width="0.8" height="7.8" fill="#a6479f"/>
<line x1="165.85" y1="186.3" x2="167.55" y2="186.3" stroke="#a6479f" stroke-width="0.6"/>
<line x1="165.75" y1="215.5" x2="165.75" y2="218.4" stroke="#111" stroke-width="0.8"/>
<text x="167.45" y="221.6" font-size="4.9" fill="#333" text-anchor="end" textLength="5.7" lengthAdjust="spacingAndGlyphs" transform="rotate(-90 167.45 221.6)" stroke="#333" stroke-width="0.15">24</text>
<rect x="168.57" y="174.7" width="1.9" height="40.8" fill="#245e41"/>
<rect x="170.47" y="184" width="1.9" height="31.5" fill="#a6479f"/>
<rect x="170.47" y="180.3" width="1.9" height="3.7" fill="#e6c3e2"/>
<rect x="171.02" y="180.3" width="0.8" height="5.2" fill="#a6479f"/>
<line x1="170.57" y1="180.6" x2="172.27" y2="180.6" stroke="#a6479f" stroke-width="0.6"/>
<line x1="170.47" y1="215.5" x2="170.47" y2="218.4" stroke="#111" stroke-width="0.8"/>
<text x="172.17" y="221.6" font-size="4.9" fill="#333" text-anchor="end" textLength="2.85" lengthAdjust="spacingAndGlyphs" transform="rotate(-90 172.17 221.6)" stroke="#333" stroke-width="0.15">2</text>
<rect x="173.29" y="173.1" width="1.9" height="42.4" fill="#245e41"/>
<rect x="175.19" y="179" width="1.9" height="36.5" fill="#a6479f"/>
<rect x="175.19" y="176.7" width="1.9" height="2.3" fill="#e6c3e2"/>
<rect x="175.74" y="176.7" width="0.8" height="3.8" fill="#a6479f"/>
<line x1="175.29" y1="177" x2="176.99" y2="177" stroke="#a6479f" stroke-width="0.6"/>
<line x1="175.19" y1="215.5" x2="175.19" y2="218.4" stroke="#111" stroke-width="0.8"/>
<text x="176.89" y="221.6" font-size="4.9" fill="#333" text-anchor="end" textLength="5.7" lengthAdjust="spacingAndGlyphs" transform="rotate(-90 176.89 221.6)" stroke="#333" stroke-width="0.15">14</text>
<rect x="178.01" y="176.7" width="1.9" height="38.8" fill="#245e41"/>
<rect x="179.91" y="179.8" width="1.9" height="35.7" fill="#a6479f"/>
<line x1="179.91" y1="215.5" x2="179.91" y2="218.4" stroke="#111" stroke-width="0.8"/>
<text x="181.61" y="221.6" font-size="4.9" fill="#333" text-anchor="end" textLength="5.7" lengthAdjust="spacingAndGlyphs" transform="rotate(-90 181.61 221.6)" stroke="#333" stroke-width="0.15">13</text>
<rect x="182.73" y="203.2" width="1.9" height="12.3" fill="#245e41"/>
<rect x="182.73" y="195.4" width="1.9" height="7.8" fill="#b4cdbf"/>
<rect x="183.28" y="195.4" width="0.8" height="9.3" fill="#245e41"/>
<line x1="182.83" y1="195.7" x2="184.53" y2="195.7" stroke="#245e41" stroke-width="0.6"/>
<rect x="184.63" y="210.2" width="1.9" height="5.3" fill="#a6479f"/>
<line x1="184.63" y1="215.5" x2="184.63" y2="218.4" stroke="#111" stroke-width="0.8"/>
<text x="186.33" y="221.6" font-size="4.9" fill="#333" text-anchor="end" textLength="5.7" lengthAdjust="spacingAndGlyphs" transform="rotate(-90 186.33 221.6)" stroke="#333" stroke-width="0.15">21</text>
<rect x="187.45" y="177.1" width="1.9" height="38.4" fill="#245e41"/>
<rect x="189.35" y="184.7" width="1.9" height="30.8" fill="#a6479f"/>
<rect x="189.35" y="180" width="1.9" height="4.7" fill="#e6c3e2"/>
<rect x="189.9" y="180" width="0.8" height="6.2" fill="#a6479f"/>
<line x1="189.45" y1="180.3" x2="191.15" y2="180.3" stroke="#a6479f" stroke-width="0.6"/>
<line x1="189.35" y1="215.5" x2="189.35" y2="218.4" stroke="#111" stroke-width="0.8"/>
<text x="191.05" y="221.6" font-size="4.9" fill="#333" text-anchor="end" textLength="5.7" lengthAdjust="spacingAndGlyphs" transform="rotate(-90 191.05 221.6)" stroke="#333" stroke-width="0.15">27</text>
<rect x="192.17" y="174" width="1.9" height="41.5" fill="#245e41"/>
<rect x="194.07" y="174.5" width="1.9" height="41" fill="#a6479f"/>
<line x1="194.07" y1="215.5" x2="194.07" y2="218.4" stroke="#111" stroke-width="0.8"/>
<text x="195.77" y="221.6" font-size="4.9" fill="#333" text-anchor="end" textLength="5.7" lengthAdjust="spacingAndGlyphs" transform="rotate(-90 195.77 221.6)" stroke="#333" stroke-width="0.15">35</text>
<rect x="196.89" y="172.8" width="1.9" height="42.7" fill="#245e41"/>
<rect x="198.79" y="172.8" width="1.9" height="42.7" fill="#a6479f"/>
<line x1="198.79" y1="215.5" x2="198.79" y2="218.4" stroke="#111" stroke-width="0.8"/>
<text x="200.49" y="221.6" font-size="4.9" fill="#333" text-anchor="end" textLength="5.7" lengthAdjust="spacingAndGlyphs" transform="rotate(-90 200.49 221.6)" stroke="#333" stroke-width="0.15">32</text>
<rect x="201.61" y="172.5" width="1.9" height="43" fill="#245e41"/>
<rect x="203.51" y="172.5" width="1.9" height="43" fill="#a6479f"/>
<line x1="203.51" y1="215.5" x2="203.51" y2="218.4" stroke="#111" stroke-width="0.8"/>
<text x="205.21" y="221.6" font-size="4.9" fill="#333" text-anchor="end" textLength="5.7" lengthAdjust="spacingAndGlyphs" transform="rotate(-90 205.21 221.6)" stroke="#333" stroke-width="0.15">19</text>
<rect x="206.33" y="186" width="1.9" height="29.5" fill="#245e41"/>
<rect x="206.33" y="179.8" width="1.9" height="6.2" fill="#b4cdbf"/>
<rect x="206.88" y="179.8" width="0.8" height="7.7" fill="#245e41"/>
<line x1="206.43" y1="180.1" x2="208.13" y2="180.1" stroke="#245e41" stroke-width="0.6"/>
<rect x="208.23" y="187.3" width="1.9" height="28.2" fill="#a6479f"/>
<rect x="208.23" y="178.5" width="1.9" height="8.8" fill="#e6c3e2"/>
<rect x="208.78" y="178.5" width="0.8" height="10.3" fill="#a6479f"/>
<line x1="208.33" y1="178.8" x2="210.03" y2="178.8" stroke="#a6479f" stroke-width="0.6"/>
<line x1="208.23" y1="215.5" x2="208.23" y2="218.4" stroke="#111" stroke-width="0.8"/>
<text x="209.93" y="221.6" font-size="4.9" fill="#333" text-anchor="end" textLength="5.7" lengthAdjust="spacingAndGlyphs" transform="rotate(-90 209.93 221.6)" stroke="#333" stroke-width="0.15">15</text>
<line x1="45" y1="215.5" x2="211.2" y2="215.5" stroke="#111" stroke-width="1.3"/>
<line x1="45.5" y1="170.9" x2="167.2" y2="170.9" stroke="#9b9b9b" stroke-width="1.3"/>
<line x1="168.8" y1="170.9" x2="211" y2="170.9" stroke="#9b9b9b" stroke-width="1.3"/>
<text x="106.6" y="168.3" font-size="4.6" fill="#231f20" text-anchor="middle" textLength="15.7" lengthAdjust="spacingAndGlyphs" stroke="#231f20" stroke-width="0.11">* to ****</text>
<text x="189.8" y="168.6" font-size="4.7" fill="#231f20" text-anchor="middle" textLength="4.4" lengthAdjust="spacingAndGlyphs" stroke="#231f20" stroke-width="0.14">ns</text>
<rect x="101.2" y="156.5" width="2.6" height="2.8" fill="#245e41"/>
<text x="106.4" y="159.4" font-size="4.6" fill="#231f20" textLength="14" lengthAdjust="spacingAndGlyphs" stroke="#231f20" stroke-width="0.11">Vehicle</text>
<rect x="129.2" y="156.5" width="2.6" height="2.8" fill="#a6479f"/>
<text x="134.6" y="159.4" font-size="4.6" fill="#231f20" textLength="20.2" lengthAdjust="spacingAndGlyphs" stroke="#231f20" stroke-width="0.11">CC-90009</text>
<text x="127.9" y="237.4" font-size="7" fill="#231f20" text-anchor="middle" textLength="11.2" lengthAdjust="spacingAndGlyphs" stroke="#231f20" stroke-width="0.21">AML</text>
<line x1="45.5" y1="263.9" x2="45.5" y2="309.5" stroke="#111" stroke-width="1.1"/>
<line x1="42.2" y1="309" x2="45.5" y2="309" stroke="#111" stroke-width="0.9"/>
<text x="40.4" y="310.9" font-size="5.3" fill="#231f20" text-anchor="end" textLength="2.8" lengthAdjust="spacingAndGlyphs" stroke="#231f20" stroke-width="0.16">0</text>
<line x1="42.2" y1="300.28" x2="45.5" y2="300.28" stroke="#111" stroke-width="0.9"/>
<text x="40.4" y="302.18" font-size="5.3" fill="#231f20" text-anchor="end" textLength="5.6" lengthAdjust="spacingAndGlyphs" stroke="#231f20" stroke-width="0.16">20</text>
<line x1="42.2" y1="291.56" x2="45.5" y2="291.56" stroke="#111" stroke-width="0.9"/>
<text x="40.4" y="293.46" font-size="5.3" fill="#231f20" text-anchor="end" textLength="5.6" lengthAdjust="spacingAndGlyphs" stroke="#231f20" stroke-width="0.16">40</text>
<line x1="42.2" y1="282.84" x2="45.5" y2="282.84" stroke="#111" stroke-width="0.9"/>
<text x="40.4" y="284.74" font-size="5.3" fill="#231f20" text-anchor="end" textLength="5.6" lengthAdjust="spacingAndGlyphs" stroke="#231f20" stroke-width="0.16">60</text>
<line x1="42.2" y1="274.12" x2="45.5" y2="274.12" stroke="#111" stroke-width="0.9"/>
<text x="40.4" y="276.02" font-size="5.3" fill="#231f20" text-anchor="end" textLength="5.6" lengthAdjust="spacingAndGlyphs" stroke="#231f20" stroke-width="0.16">80</text>
<line x1="42.2" y1="265.4" x2="45.5" y2="265.4" stroke="#111" stroke-width="0.9"/>
<text x="40.4" y="267.3" font-size="5.3" fill="#231f20" text-anchor="end" textLength="8.6" lengthAdjust="spacingAndGlyphs" stroke="#231f20" stroke-width="0.16">100</text>
<text x="25.3" y="286.4" font-size="5.9" fill="#231f20" text-anchor="middle" textLength="48.7" lengthAdjust="spacingAndGlyphs" transform="rotate(-90 25.3 286.4)" stroke="#231f20" stroke-width="0.18">%AML graft in BM</text>
<rect x="45.85" y="302" width="1.9" height="7" fill="#245e41"/>
<line x1="47.75" y1="309" x2="47.75" y2="311.9" stroke="#111" stroke-width="0.8"/>
<text x="49.45" y="315.1" font-size="4.9" fill="#333" text-anchor="end" textLength="5.7" lengthAdjust="spacingAndGlyphs" transform="rotate(-90 49.45 315.1)" stroke="#333" stroke-width="0.15">20</text>
<rect x="50.57" y="289.4" width="1.9" height="19.6" fill="#245e41"/>
<rect x="50.57" y="287.3" width="1.9" height="2.1" fill="#b4cdbf"/>
<rect x="51.12" y="287.3" width="0.8" height="3.6" fill="#245e41"/>
<line x1="50.67" y1="287.6" x2="52.37" y2="287.6" stroke="#245e41" stroke-width="0.6"/>
<line x1="52.47" y1="309" x2="52.47" y2="311.9" stroke="#111" stroke-width="0.8"/>
<text x="54.17" y="315.1" font-size="4.9" fill="#333" text-anchor="end" textLength="5.7" lengthAdjust="spacingAndGlyphs" transform="rotate(-90 54.17 315.1)" stroke="#333" stroke-width="0.15">30</text>
<rect x="55.29" y="279" width="1.9" height="30" fill="#245e41"/>
<rect x="55.29" y="275.9" width="1.9" height="3.1" fill="#b4cdbf"/>
<rect x="55.84" y="275.9" width="0.8" height="4.6" fill="#245e41"/>
<line x1="55.39" y1="276.2" x2="57.09" y2="276.2" stroke="#245e41" stroke-width="0.6"/>
<line x1="57.19" y1="309" x2="57.19" y2="311.9" stroke="#111" stroke-width="0.8"/>
<text x="58.89" y="315.1" font-size="4.9" fill="#333" text-anchor="end" textLength="5.7" lengthAdjust="spacingAndGlyphs" transform="rotate(-90 58.89 315.1)" stroke="#333" stroke-width="0.15">28</text>
<rect x="60.01" y="283.8" width="1.9" height="25.2" fill="#245e41"/>
<rect x="60.01" y="281" width="1.9" height="2.8" fill="#b4cdbf"/>
<rect x="60.56" y="281" width="0.8" height="4.3" fill="#245e41"/>
<line x1="60.11" y1="281.3" x2="61.81" y2="281.3" stroke="#245e41" stroke-width="0.6"/>
<line x1="61.91" y1="309" x2="61.91" y2="311.9" stroke="#111" stroke-width="0.8"/>
<text x="63.61" y="315.1" font-size="4.9" fill="#333" text-anchor="end" textLength="2.85" lengthAdjust="spacingAndGlyphs" transform="rotate(-90 63.61 315.1)" stroke="#333" stroke-width="0.15">7</text>
<rect x="64.73" y="306.8" width="1.9" height="2.2" fill="#245e41"/>
<line x1="66.63" y1="309" x2="66.63" y2="311.9" stroke="#111" stroke-width="0.8"/>
<text x="68.33" y="315.1" font-size="4.9" fill="#333" text-anchor="end" textLength="5.7" lengthAdjust="spacingAndGlyphs" transform="rotate(-90 68.33 315.1)" stroke="#333" stroke-width="0.15">34</text>
<rect x="69.45" y="280.3" width="1.9" height="28.7" fill="#245e41"/>
<rect x="69.45" y="279" width="1.9" height="1.3" fill="#b4cdbf"/>
<rect x="70" y="279" width="0.8" height="2.8" fill="#245e41"/>
<line x1="69.55" y1="279.3" x2="71.25" y2="279.3" stroke="#245e41" stroke-width="0.6"/>
<rect x="71.35" y="306.8" width="1.9" height="2.2" fill="#a6479f"/>
<line x1="71.35" y1="309" x2="71.35" y2="311.9" stroke="#111" stroke-width="0.8"/>
<text x="73.05" y="315.1" font-size="4.9" fill="#333" text-anchor="end" textLength="5.7" lengthAdjust="spacingAndGlyphs" transform="rotate(-90 73.05 315.1)" stroke="#333" stroke-width="0.15">12</text>
<rect x="74.17" y="307.3" width="1.9" height="1.7" fill="#245e41"/>
<line x1="76.07" y1="309" x2="76.07" y2="311.9" stroke="#111" stroke-width="0.8"/>
<text x="77.77" y="315.1" font-size="4.9" fill="#333" text-anchor="end" textLength="2.85" lengthAdjust="spacingAndGlyphs" transform="rotate(-90 77.77 315.1)" stroke="#333" stroke-width="0.15">8</text>
<rect x="78.89" y="297.8" width="1.9" height="11.2" fill="#245e41"/>
<rect x="78.89" y="296.2" width="1.9" height="1.6" fill="#b4cdbf"/>
<rect x="79.44" y="296.2" width="0.8" height="3.1" fill="#245e41"/>
<line x1="78.99" y1="296.5" x2="80.69" y2="296.5" stroke="#245e41" stroke-width="0.6"/>
<rect x="80.79" y="307.2" width="1.9" height="1.8" fill="#a6479f"/>
<line x1="80.79" y1="309" x2="80.79" y2="311.9" stroke="#111" stroke-width="0.8"/>
<text x="82.49" y="315.1" font-size="4.9" fill="#333" text-anchor="end" textLength="5.7" lengthAdjust="spacingAndGlyphs" transform="rotate(-90 82.49 315.1)" stroke="#333" stroke-width="0.15">22</text>
<rect x="83.61" y="288.6" width="1.9" height="20.4" fill="#245e41"/>
<rect x="85.51" y="307.5" width="1.9" height="1.5" fill="#a6479f"/>
<line x1="85.51" y1="309" x2="85.51" y2="311.9" stroke="#111" stroke-width="0.8"/>
<text x="87.21" y="315.1" font-size="4.9" fill="#333" text-anchor="end" textLength="2.85" lengthAdjust="spacingAndGlyphs" transform="rotate(-90 87.21 315.1)" stroke="#333" stroke-width="0.15">1</text>
<rect x="88.33" y="275.1" width="1.9" height="33.9" fill="#245e41"/>
<rect x="88.33" y="271.9" width="1.9" height="3.2" fill="#b4cdbf"/>
<rect x="88.88" y="271.9" width="0.8" height="4.7" fill="#245e41"/>
<line x1="88.43" y1="272.2" x2="90.13" y2="272.2" stroke="#245e41" stroke-width="0.6"/>
<rect x="90.23" y="308" width="1.9" height="1" fill="#a6479f"/>
<line x1="90.23" y1="309" x2="90.23" y2="311.9" stroke="#111" stroke-width="0.8"/>
<text x="91.93" y="315.1" font-size="4.9" fill="#333" text-anchor="end" textLength="2.85" lengthAdjust="spacingAndGlyphs" transform="rotate(-90 91.93 315.1)" stroke="#333" stroke-width="0.15">5</text>
<rect x="93.05" y="304.8" width="1.9" height="4.2" fill="#245e41"/>
<rect x="93.05" y="303.6" width="1.9" height="1.2" fill="#b4cdbf"/>
<rect x="93.6" y="303.6" width="0.8" height="2.7" fill="#245e41"/>
<line x1="93.15" y1="303.9" x2="94.85" y2="303.9" stroke="#245e41" stroke-width="0.6"/>
<line x1="94.95" y1="309" x2="94.95" y2="311.9" stroke="#111" stroke-width="0.8"/>
<text x="96.65" y="315.1" font-size="4.9" fill="#333" text-anchor="end" textLength="5.7" lengthAdjust="spacingAndGlyphs" transform="rotate(-90 96.65 315.1)" stroke="#333" stroke-width="0.15">11</text>
<rect x="97.77" y="301" width="1.9" height="8" fill="#245e41"/>
<rect x="97.77" y="298.4" width="1.9" height="2.6" fill="#b4cdbf"/>
<rect x="98.32" y="298.4" width="0.8" height="4.1" fill="#245e41"/>
<line x1="97.87" y1="298.7" x2="99.57" y2="298.7" stroke="#245e41" stroke-width="0.6"/>
<line x1="99.67" y1="309" x2="99.67" y2="311.9" stroke="#111" stroke-width="0.8"/>
<text x="101.37" y="315.1" font-size="4.9" fill="#333" text-anchor="end" textLength="2.85" lengthAdjust="spacingAndGlyphs" transform="rotate(-90 101.37 315.1)" stroke="#333" stroke-width="0.15">9</text>
<rect x="102.49" y="284.6" width="1.9" height="24.4" fill="#245e41"/>
<rect x="102.49" y="280.3" width="1.9" height="4.3" fill="#b4cdbf"/>
<rect x="103.04" y="280.3" width="0.8" height="5.8" fill="#245e41"/>
<line x1="102.59" y1="280.6" x2="104.29" y2="280.6" stroke="#245e41" stroke-width="0.6"/>
<rect x="104.39" y="305.2" width="1.9" height="3.8" fill="#a6479f"/>
<rect x="104.39" y="303" width="1.9" height="2.2" fill="#e6c3e2"/>
<rect x="104.94" y="303" width="0.8" height="3.7" fill="#a6479f"/>
<line x1="104.49" y1="303.3" x2="106.19" y2="303.3" stroke="#a6479f" stroke-width="0.6"/>
<line x1="104.39" y1="309" x2="104.39" y2="311.9" stroke="#111" stroke-width="0.8"/>
<text x="106.09" y="315.1" font-size="4.9" fill="#333" text-anchor="end" textLength="5.7" lengthAdjust="spacingAndGlyphs" transform="rotate(-90 106.09 315.1)" stroke="#333" stroke-width="0.15">26</text>
<rect x="107.21" y="281.9" width="1.9" height="27.1" fill="#245e41"/>
<rect x="107.21" y="279.4" width="1.9" height="2.5" fill="#b4cdbf"/>
<rect x="107.76" y="279.4" width="0.8" height="4" fill="#245e41"/>
<line x1="107.31" y1="279.7" x2="109.01" y2="279.7" stroke="#245e41" stroke-width="0.6"/>
<rect x="109.11" y="305.2" width="1.9" height="3.8" fill="#a6479f"/>
<line x1="109.11" y1="309" x2="109.11" y2="311.9" stroke="#111" stroke-width="0.8"/>
<text x="110.81" y="315.1" font-size="4.9" fill="#333" text-anchor="end" textLength="2.85" lengthAdjust="spacingAndGlyphs" transform="rotate(-90 110.81 315.1)" stroke="#333" stroke-width="0.15">3</text>
<rect x="111.93" y="287" width="1.9" height="22" fill="#245e41"/>
<rect x="111.93" y="279.4" width="1.9" height="7.6" fill="#b4cdbf"/>
<rect x="112.48" y="279.4" width="0.8" height="9.1" fill="#245e41"/>
<line x1="112.03" y1="279.7" x2="113.73" y2="279.7" stroke="#245e41" stroke-width="0.6"/>
<rect x="113.83" y="306.8" width="1.9" height="2.2" fill="#a6479f"/>
<line x1="113.83" y1="309" x2="113.83" y2="311.9" stroke="#111" stroke-width="0.8"/>
<text x="115.53" y="315.1" font-size="4.9" fill="#333" text-anchor="end" textLength="5.7" lengthAdjust="spacingAndGlyphs" transform="rotate(-90 115.53 315.1)" stroke="#333" stroke-width="0.15">25</text>
<rect x="116.65" y="274" width="1.9" height="35" fill="#245e41"/>
<rect x="116.65" y="272.4" width="1.9" height="1.6" fill="#b4cdbf"/>
<rect x="117.2" y="272.4" width="0.8" height="3.1" fill="#245e41"/>
<line x1="116.75" y1="272.7" x2="118.45" y2="272.7" stroke="#245e41" stroke-width="0.6"/>
<rect x="118.55" y="306" width="1.9" height="3" fill="#a6479f"/>
<line x1="118.55" y1="309" x2="118.55" y2="311.9" stroke="#111" stroke-width="0.8"/>
<text x="120.25" y="315.1" font-size="4.9" fill="#333" text-anchor="end" textLength="5.7" lengthAdjust="spacingAndGlyphs" transform="rotate(-90 120.25 315.1)" stroke="#333" stroke-width="0.15">10</text>
<rect x="121.37" y="285.1" width="1.9" height="23.9" fill="#245e41"/>
<rect x="121.37" y="283.5" width="1.9" height="1.6" fill="#b4cdbf"/>
<rect x="121.92" y="283.5" width="0.8" height="3.1" fill="#245e41"/>
<line x1="121.47" y1="283.8" x2="123.17" y2="283.8" stroke="#245e41" stroke-width="0.6"/>
<rect x="123.27" y="307.3" width="1.9" height="1.7" fill="#a6479f"/>
<line x1="123.27" y1="309" x2="123.27" y2="311.9" stroke="#111" stroke-width="0.8"/>
<text x="124.97" y="315.1" font-size="4.9" fill="#333" text-anchor="end" textLength="5.7" lengthAdjust="spacingAndGlyphs" transform="rotate(-90 124.97 315.1)" stroke="#333" stroke-width="0.15">24</text>
<rect x="126.09" y="275.9" width="1.9" height="33.1" fill="#245e41"/>
<rect x="126.09" y="274.6" width="1.9" height="1.3" fill="#b4cdbf"/>
<rect x="126.64" y="274.6" width="0.8" height="2.8" fill="#245e41"/>
<line x1="126.19" y1="274.9" x2="127.89" y2="274.9" stroke="#245e41" stroke-width="0.6"/>
<rect x="127.99" y="306.3" width="1.9" height="2.7" fill="#a6479f"/>
<line x1="127.99" y1="309" x2="127.99" y2="311.9" stroke="#111" stroke-width="0.8"/>
<text x="129.69" y="315.1" font-size="4.9" fill="#333" text-anchor="end" textLength="2.85" lengthAdjust="spacingAndGlyphs" transform="rotate(-90 129.69 315.1)" stroke="#333" stroke-width="0.15">4</text>
<rect x="130.81" y="298.1" width="1.9" height="10.9" fill="#245e41"/>
<rect x="130.81" y="296.2" width="1.9" height="1.9" fill="#b4cdbf"/>
<rect x="131.36" y="296.2" width="0.8" height="3.4" fill="#245e41"/>
<line x1="130.91" y1="296.5" x2="132.61" y2="296.5" stroke="#245e41" stroke-width="0.6"/>
<rect x="132.71" y="307.6" width="1.9" height="1.4" fill="#a6479f"/>
<line x1="132.71" y1="309" x2="132.71" y2="311.9" stroke="#111" stroke-width="0.8"/>
<text x="134.41" y="315.1" font-size="4.9" fill="#333" text-anchor="end" textLength="5.7" lengthAdjust="spacingAndGlyphs" transform="rotate(-90 134.41 315.1)" stroke="#333" stroke-width="0.15">18</text>
<rect x="135.53" y="291.4" width="1.9" height="17.6" fill="#245e41"/>
<rect x="137.43" y="306" width="1.9" height="3" fill="#a6479f"/>
<line x1="137.43" y1="309" x2="137.43" y2="311.9" stroke="#111" stroke-width="0.8"/>
<text x="139.13" y="315.1" font-size="4.9" fill="#333" text-anchor="end" textLength="5.7" lengthAdjust="spacingAndGlyphs" transform="rotate(-90 139.13 315.1)" stroke="#333" stroke-width="0.15">29</text>
<rect x="140.25" y="298.4" width="1.9" height="10.6" fill="#245e41"/>
<rect x="140.25" y="297.3" width="1.9" height="1.1" fill="#b4cdbf"/>
<rect x="140.8" y="297.3" width="0.8" height="2.6" fill="#245e41"/>
<line x1="140.35" y1="297.6" x2="142.05" y2="297.6" stroke="#245e41" stroke-width="0.6"/>
<rect x="142.15" y="307.6" width="1.9" height="1.4" fill="#a6479f"/>
<line x1="142.15" y1="309" x2="142.15" y2="311.9" stroke="#111" stroke-width="0.8"/>
<text x="143.85" y="315.1" font-size="4.9" fill="#333" text-anchor="end" textLength="2.85" lengthAdjust="spacingAndGlyphs" transform="rotate(-90 143.85 315.1)" stroke="#333" stroke-width="0.15">6</text>
<rect x="144.97" y="295.7" width="1.9" height="13.3" fill="#245e41"/>
<rect x="144.97" y="291.7" width="1.9" height="4" fill="#b4cdbf"/>
<rect x="145.52" y="291.7" width="0.8" height="5.5" fill="#245e41"/>
<line x1="145.07" y1="292" x2="146.77" y2="292" stroke="#245e41" stroke-width="0.6"/>
<rect x="146.87" y="306.8" width="1.9" height="2.2" fill="#a6479f"/>
<line x1="146.87" y1="309" x2="146.87" y2="311.9" stroke="#111" stroke-width="0.8"/>
<text x="148.57" y="315.1" font-size="4.9" fill="#333" text-anchor="end" textLength="5.7" lengthAdjust="spacingAndGlyphs" transform="rotate(-90 148.57 315.1)" stroke="#333" stroke-width="0.15">23</text>
<rect x="149.69" y="272.4" width="1.9" height="36.6" fill="#245e41"/>
<rect x="151.59" y="298.9" width="1.9" height="10.1" fill="#a6479f"/>
<rect x="151.59" y="297.8" width="1.9" height="1.1" fill="#e6c3e2"/>
<rect x="152.14" y="297.8" width="0.8" height="2.6" fill="#a6479f"/>
<line x1="151.69" y1="298.1" x2="153.39" y2="298.1" stroke="#a6479f" stroke-width="0.6"/>
<line x1="151.59" y1="309" x2="151.59" y2="311.9" stroke="#111" stroke-width="0.8"/>
<text x="153.29" y="315.1" font-size="4.9" fill="#333" text-anchor="end" textLength="5.7" lengthAdjust="spacingAndGlyphs" transform="rotate(-90 153.29 315.1)" stroke="#333" stroke-width="0.15">33</text>
<rect x="154.41" y="297.3" width="1.9" height="11.7" fill="#245e41"/>
<rect x="154.41" y="294.1" width="1.9" height="3.2" fill="#b4cdbf"/>
<rect x="154.96" y="294.1" width="0.8" height="4.7" fill="#245e41"/>
<line x1="154.51" y1="294.4" x2="156.21" y2="294.4" stroke="#245e41" stroke-width="0.6"/>
<rect x="156.31" y="305.2" width="1.9" height="3.8" fill="#a6479f"/>
<line x1="156.31" y1="309" x2="156.31" y2="311.9" stroke="#111" stroke-width="0.8"/>
<text x="158.01" y="315.1" font-size="4.9" fill="#333" text-anchor="end" textLength="5.7" lengthAdjust="spacingAndGlyphs" transform="rotate(-90 158.01 315.1)" stroke="#333" stroke-width="0.15">31</text>
<rect x="159.13" y="270.9" width="1.9" height="38.1" fill="#245e41"/>
<rect x="161.03" y="291.8" width="1.9" height="17.2" fill="#a6479f"/>
<rect x="161.03" y="286.8" width="1.9" height="5" fill="#e6c3e2"/>
<rect x="161.58" y="286.8" width="0.8" height="6.5" fill="#a6479f"/>
<line x1="161.13" y1="287.1" x2="162.83" y2="287.1" stroke="#a6479f" stroke-width="0.6"/>
<line x1="161.03" y1="309" x2="161.03" y2="311.9" stroke="#111" stroke-width="0.8"/>
<text x="162.73" y="315.1" font-size="4.9" fill="#333" text-anchor="end" textLength="5.7" lengthAdjust="spacingAndGlyphs" transform="rotate(-90 162.73 315.1)" stroke="#333" stroke-width="0.15">17</text>
<rect x="163.85" y="291.8" width="1.9" height="17.2" fill="#245e41"/>
<rect x="165.75" y="302.8" width="1.9" height="6.2" fill="#a6479f"/>
<line x1="165.75" y1="309" x2="165.75" y2="311.9" stroke="#111" stroke-width="0.8"/>
<text x="167.45" y="315.1" font-size="4.9" fill="#333" text-anchor="end" textLength="2.85" lengthAdjust="spacingAndGlyphs" transform="rotate(-90 167.45 315.1)" stroke="#333" stroke-width="0.15">2</text>
<rect x="168.57" y="297.9" width="1.9" height="11.1" fill="#245e41"/>
<rect x="168.57" y="297.3" width="1.9" height="0.6" fill="#b4cdbf"/>
<rect x="169.12" y="297.3" width="0.8" height="2.1" fill="#245e41"/>
<line x1="168.67" y1="297.6" x2="170.37" y2="297.6" stroke="#245e41" stroke-width="0.6"/>
<rect x="170.47" y="303.3" width="1.9" height="5.7" fill="#a6479f"/>
<line x1="170.47" y1="309" x2="170.47" y2="311.9" stroke="#111" stroke-width="0.8"/>
<text x="172.17" y="315.1" font-size="4.9" fill="#333" text-anchor="end" textLength="5.7" lengthAdjust="spacingAndGlyphs" transform="rotate(-90 172.17 315.1)" stroke="#333" stroke-width="0.15">16</text>
<rect x="173.29" y="272.8" width="1.9" height="36.2" fill="#245e41"/>
<rect x="175.19" y="292.6" width="1.9" height="16.4" fill="#a6479f"/>
<line x1="175.19" y1="309" x2="175.19" y2="311.9" stroke="#111" stroke-width="0.8"/>
<text x="176.89" y="315.1" font-size="4.9" fill="#333" text-anchor="end" textLength="5.7" lengthAdjust="spacingAndGlyphs" transform="rotate(-90 176.89 315.1)" stroke="#333" stroke-width="0.15">14</text>
<rect x="178.01" y="266.6" width="1.9" height="42.4" fill="#245e41"/>
<rect x="179.91" y="283.5" width="1.9" height="25.5" fill="#a6479f"/>
<rect x="179.91" y="282.7" width="1.9" height="0.8" fill="#e6c3e2"/>
<rect x="180.46" y="282.7" width="0.8" height="2.3" fill="#a6479f"/>
<line x1="180.01" y1="283" x2="181.71" y2="283" stroke="#a6479f" stroke-width="0.6"/>
<line x1="179.91" y1="309" x2="179.91" y2="311.9" stroke="#111" stroke-width="0.8"/>
<text x="181.61" y="315.1" font-size="4.9" fill="#333" text-anchor="end" textLength="5.7" lengthAdjust="spacingAndGlyphs" transform="rotate(-90 181.61 315.1)" stroke="#333" stroke-width="0.15">13</text>
<rect x="182.73" y="270.9" width="1.9" height="38.1" fill="#245e41"/>
<rect x="184.63" y="280.2" width="1.9" height="28.8" fill="#a6479f"/>
<rect x="184.63" y="279.4" width="1.9" height="0.8" fill="#e6c3e2"/>
<rect x="185.18" y="279.4" width="0.8" height="2.3" fill="#a6479f"/>
<line x1="184.73" y1="279.7" x2="186.43" y2="279.7" stroke="#a6479f" stroke-width="0.6"/>
<line x1="184.63" y1="309" x2="184.63" y2="311.9" stroke="#111" stroke-width="0.8"/>
<text x="186.33" y="315.1" font-size="4.9" fill="#333" text-anchor="end" textLength="5.7" lengthAdjust="spacingAndGlyphs" transform="rotate(-90 186.33 315.1)" stroke="#333" stroke-width="0.15">21</text>
<rect x="187.45" y="273.2" width="1.9" height="35.8" fill="#245e41"/>
<rect x="187.45" y="272" width="1.9" height="1.2" fill="#b4cdbf"/>
<rect x="188" y="272" width="0.8" height="2.7" fill="#245e41"/>
<line x1="187.55" y1="272.3" x2="189.25" y2="272.3" stroke="#245e41" stroke-width="0.6"/>
<rect x="189.35" y="279.2" width="1.9" height="29.8" fill="#a6479f"/>
<rect x="189.35" y="277.4" width="1.9" height="1.8" fill="#e6c3e2"/>
<rect x="189.9" y="277.4" width="0.8" height="3.3" fill="#a6479f"/>
<line x1="189.45" y1="277.7" x2="191.15" y2="277.7" stroke="#a6479f" stroke-width="0.6"/>
<line x1="189.35" y1="309" x2="189.35" y2="311.9" stroke="#111" stroke-width="0.8"/>
<text x="191.05" y="315.1" font-size="4.9" fill="#333" text-anchor="end" textLength="5.7" lengthAdjust="spacingAndGlyphs" transform="rotate(-90 191.05 315.1)" stroke="#333" stroke-width="0.15">27</text>
<rect x="192.17" y="272" width="1.9" height="37" fill="#245e41"/>
<rect x="194.07" y="276.1" width="1.9" height="32.9" fill="#a6479f"/>
<line x1="194.07" y1="309" x2="194.07" y2="311.9" stroke="#111" stroke-width="0.8"/>
<text x="195.77" y="315.1" font-size="4.9" fill="#333" text-anchor="end" textLength="5.7" lengthAdjust="spacingAndGlyphs" transform="rotate(-90 195.77 315.1)" stroke="#333" stroke-width="0.15">35</text>
<rect x="196.89" y="267.1" width="1.9" height="41.9" fill="#245e41"/>
<rect x="198.79" y="268" width="1.9" height="41" fill="#a6479f"/>
<line x1="198.79" y1="309" x2="198.79" y2="311.9" stroke="#111" stroke-width="0.8"/>
<text x="200.49" y="315.1" font-size="4.9" fill="#333" text-anchor="end" textLength="5.7" lengthAdjust="spacingAndGlyphs" transform="rotate(-90 200.49 315.1)" stroke="#333" stroke-width="0.15">32</text>
<rect x="201.61" y="266.8" width="1.9" height="42.2" fill="#245e41"/>
<rect x="203.51" y="267.1" width="1.9" height="41.9" fill="#a6479f"/>
<line x1="203.51" y1="309" x2="203.51" y2="311.9" stroke="#111" stroke-width="0.8"/>
<text x="205.21" y="315.1" font-size="4.9" fill="#333" text-anchor="end" textLength="5.7" lengthAdjust="spacingAndGlyphs" transform="rotate(-90 205.21 315.1)" stroke="#333" stroke-width="0.15">19</text>
<rect x="206.33" y="304.3" width="1.9" height="4.7" fill="#245e41"/>
<rect x="206.33" y="301.4" width="1.9" height="2.9" fill="#b4cdbf"/>
<rect x="206.88" y="301.4" width="0.8" height="4.4" fill="#245e41"/>
<line x1="206.43" y1="301.7" x2="208.13" y2="301.7" stroke="#245e41" stroke-width="0.6"/>
<rect x="208.23" y="300.8" width="1.9" height="8.2" fill="#a6479f"/>
<rect x="208.23" y="299.6" width="1.9" height="1.2" fill="#e6c3e2"/>
<rect x="208.78" y="299.6" width="0.8" height="2.7" fill="#a6479f"/>
<line x1="208.33" y1="299.9" x2="210.03" y2="299.9" stroke="#a6479f" stroke-width="0.6"/>
<line x1="208.23" y1="309" x2="208.23" y2="311.9" stroke="#111" stroke-width="0.8"/>
<text x="209.93" y="315.1" font-size="4.9" fill="#333" text-anchor="end" textLength="5.7" lengthAdjust="spacingAndGlyphs" transform="rotate(-90 209.93 315.1)" stroke="#333" stroke-width="0.15">15</text>
<line x1="45" y1="309" x2="211.2" y2="309" stroke="#111" stroke-width="1.3"/>
<line x1="45.5" y1="265" x2="195.3" y2="265" stroke="#9b9b9b" stroke-width="1.3"/>
<line x1="197" y1="265" x2="209.6" y2="265" stroke="#9b9b9b" stroke-width="1.3"/>
<text x="120.9" y="262.6" font-size="4.6" fill="#231f20" text-anchor="middle" textLength="15.7" lengthAdjust="spacingAndGlyphs" stroke="#231f20" stroke-width="0.11">* to ****</text>
<text x="203.4" y="263.2" font-size="4.7" fill="#231f20" text-anchor="middle" textLength="4.4" lengthAdjust="spacingAndGlyphs" stroke="#231f20" stroke-width="0.14">ns</text>
<rect x="101.2" y="250.7" width="2.6" height="2.8" fill="#245e41"/>
<text x="106.4" y="253.6" font-size="4.6" fill="#231f20" textLength="14" lengthAdjust="spacingAndGlyphs" stroke="#231f20" stroke-width="0.11">Vehicle</text>
<rect x="129.2" y="250.7" width="2.6" height="2.8" fill="#a6479f"/>
<text x="134.6" y="253.6" font-size="4.6" fill="#231f20" textLength="20.2" lengthAdjust="spacingAndGlyphs" stroke="#231f20" stroke-width="0.11">CC-90009</text>
<text x="127.9" y="331.3" font-size="7" fill="#231f20" text-anchor="middle" textLength="11.2" lengthAdjust="spacingAndGlyphs" stroke="#231f20" stroke-width="0.21">AML</text>
<text x="227" y="146.7" font-size="11.4" fill="#000" font-weight="bold" textLength="7.2" lengthAdjust="spacingAndGlyphs">E</text>
<line x1="272.1" y1="158.9" x2="272.1" y2="215.9" stroke="#111" stroke-width="1.1"/>
<line x1="268.9" y1="215.4" x2="272.1" y2="215.4" stroke="#111" stroke-width="0.9"/>
<text x="265.8" y="217.4" font-size="5.5" fill="#231f20" text-anchor="end" stroke="#231f20" stroke-width="0.16">0</text>
<line x1="268.9" y1="204.54" x2="272.1" y2="204.54" stroke="#111" stroke-width="0.9"/>
<text x="265.8" y="206.54" font-size="5.5" fill="#231f20" text-anchor="end" textLength="6" lengthAdjust="spacingAndGlyphs" stroke="#231f20" stroke-width="0.16">20</text>
<line x1="268.9" y1="193.68" x2="272.1" y2="193.68" stroke="#111" stroke-width="0.9"/>
<text x="265.8" y="195.68" font-size="5.5" fill="#231f20" text-anchor="end" textLength="6" lengthAdjust="spacingAndGlyphs" stroke="#231f20" stroke-width="0.16">40</text>
<line x1="268.9" y1="182.82" x2="272.1" y2="182.82" stroke="#111" stroke-width="0.9"/>
<text x="265.8" y="184.82" font-size="5.5" fill="#231f20" text-anchor="end" textLength="6" lengthAdjust="spacingAndGlyphs" stroke="#231f20" stroke-width="0.16">60</text>
<line x1="268.9" y1="171.96" x2="272.1" y2="171.96" stroke="#111" stroke-width="0.9"/>
<text x="265.8" y="173.96" font-size="5.5" fill="#231f20" text-anchor="end" textLength="6" lengthAdjust="spacingAndGlyphs" stroke="#231f20" stroke-width="0.16">80</text>
<line x1="268.9" y1="161.1" x2="272.1" y2="161.1" stroke="#111" stroke-width="0.9"/>
<text x="265.8" y="163.1" font-size="5.5" fill="#231f20" text-anchor="end" textLength="9.2" lengthAdjust="spacingAndGlyphs" stroke="#231f20" stroke-width="0.16">100</text>
<line x1="271.6" y1="215.4" x2="350" y2="215.4" stroke="#111" stroke-width="1.1"/>
<line x1="292.5" y1="215.4" x2="292.5" y2="218" stroke="#111" stroke-width="0.9"/>
<text x="292.5" y="225.9" font-size="5.4" fill="#231f20" text-anchor="middle" textLength="6.6" lengthAdjust="spacingAndGlyphs" stroke="#231f20" stroke-width="0.16">RF</text>
<line x1="332.3" y1="215.4" x2="332.3" y2="218" stroke="#111" stroke-width="0.9"/>
<text x="332.3" y="225.9" font-size="5.4" fill="#231f20" text-anchor="middle" textLength="8.2" lengthAdjust="spacingAndGlyphs" stroke="#231f20" stroke-width="0.16">BM</text>
<text x="244.1" y="186.5" font-size="6.9" fill="#231f20" text-anchor="middle" textLength="40.2" lengthAdjust="spacingAndGlyphs" transform="rotate(-90 244.1 186.5)" stroke="#231f20" stroke-width="0.21">% reduction by</text>
<text x="252.3" y="186.5" font-size="6.9" fill="#231f20" text-anchor="middle" textLength="26.2" lengthAdjust="spacingAndGlyphs" transform="rotate(-90 252.3 186.5)" stroke="#231f20" stroke-width="0.21">CC-90009</text>
<circle cx="291.5" cy="145" r="1.6" fill="#a4b97a"/>
<text x="296.3" y="146.5" font-size="4.6" fill="#231f20" textLength="16.2" lengthAdjust="spacingAndGlyphs" stroke="#231f20" stroke-width="0.11">De novo</text>
<rect x="290" y="150.5" width="3" height="4" fill="#b8611a"/>
<text x="296.3" y="154" font-size="4.6" fill="#231f20" textLength="36.2" lengthAdjust="spacingAndGlyphs" stroke="#231f20" stroke-width="0.11">Secondary/relapse</text>
<circle cx="282.4" cy="161.3" r="1.65" fill="#a4b97a"/>
<circle cx="287.2" cy="161.3" r="1.65" fill="#a4b97a"/>
<circle cx="283.3" cy="163.8" r="1.65" fill="#a4b97a"/>
<circle cx="286.3" cy="163.8" r="1.65" fill="#a4b97a"/>
<circle cx="285" cy="166" r="1.65" fill="#a4b97a"/>
<circle cx="284.5" cy="162" r="1.65" fill="#a4b97a"/>
<circle cx="282.4" cy="175.1" r="1.65" fill="#a4b97a"/>
<circle cx="287.2" cy="178.6" r="1.65" fill="#a4b97a"/>
<circle cx="290.3" cy="177.5" r="1.65" fill="#a4b97a"/>
<circle cx="282.4" cy="182.3" r="1.65" fill="#a4b97a"/>
<circle cx="282.7" cy="182.5" r="1.65" fill="#a4b97a"/>
<circle cx="285.1" cy="187.5" r="1.65" fill="#a4b97a"/>
<circle cx="287.6" cy="190.5" r="1.65" fill="#a4b97a"/>
<circle cx="282.7" cy="192.4" r="1.65" fill="#a4b97a"/>
<circle cx="282.7" cy="206.4" r="1.65" fill="#a4b97a"/>
<circle cx="289.7" cy="208.3" r="1.65" fill="#a4b97a"/>
<circle cx="287.2" cy="210.8" r="1.65" fill="#a4b97a"/>
<circle cx="282.7" cy="213.2" r="1.65" fill="#a4b97a"/>
<circle cx="284" cy="215.4" r="1.65" fill="#a4b97a"/>
<circle cx="286.2" cy="215.4" r="1.65" fill="#a4b97a"/>
<circle cx="322" cy="161.5" r="1.65" fill="#a4b97a"/>
<circle cx="325" cy="161.5" r="1.65" fill="#a4b97a"/>
<circle cx="328.3" cy="161.5" r="1.65" fill="#a4b97a"/>
<circle cx="323.5" cy="164" r="1.65" fill="#a4b97a"/>
<circle cx="327" cy="164" r="1.65" fill="#a4b97a"/>
<circle cx="323" cy="167.5" r="1.65" fill="#a4b97a"/>
<circle cx="325.5" cy="168.5" r="1.65" fill="#a4b97a"/>
<circle cx="328" cy="166.8" r="1.65" fill="#a4b97a"/>
<circle cx="322.6" cy="175.7" r="1.65" fill="#a4b97a"/>
<circle cx="327.2" cy="179.1" r="1.65" fill="#a4b97a"/>
<circle cx="327.2" cy="185" r="1.65" fill="#a4b97a"/>
<circle cx="322.6" cy="187.4" r="1.65" fill="#a4b97a"/>
<circle cx="324.8" cy="199.8" r="1.65" fill="#a4b97a"/>
<circle cx="322.6" cy="215.2" r="1.65" fill="#a4b97a"/>
<circle cx="327.2" cy="215.2" r="1.65" fill="#a4b97a"/>
<rect x="295.9" y="160.1" width="3" height="3" fill="#b8611a"/>
<rect x="300.9" y="160.1" width="3" height="3" fill="#b8611a"/>
<rect x="298.3" y="162.3" width="3" height="3" fill="#b8611a"/>
<rect x="298.3" y="167.4" width="3" height="3" fill="#b8611a"/>
<rect x="300.9" y="174.7" width="3" height="3" fill="#b8611a"/>
<rect x="295.6" y="176.9" width="3" height="3" fill="#b8611a"/>
<rect x="298.5" y="179.1" width="3" height="3" fill="#b8611a"/>
<rect x="300.9" y="209.3" width="3" height="3" fill="#b8611a"/>
<rect x="296" y="213.9" width="3" height="3" fill="#b8611a"/>
<rect x="335.9" y="160" width="3" height="3" fill="#b8611a"/>
<rect x="340.4" y="160.5" width="3" height="3" fill="#b8611a"/>
<rect x="342.8" y="160" width="3" height="3" fill="#b8611a"/>
<rect x="335.9" y="165.5" width="3" height="3" fill="#b8611a"/>
<rect x="338.1" y="172.5" width="3" height="3" fill="#b8611a"/>
<rect x="340.4" y="177.9" width="3" height="3" fill="#b8611a"/>
<rect x="335.9" y="180.4" width="3" height="3" fill="#b8611a"/>
<rect x="338.1" y="199.8" width="3" height="3" fill="#b8611a"/>
<rect x="338.1" y="212.8" width="3" height="3" fill="#b8611a"/>
<line x1="280" y1="178" x2="290.3" y2="178" stroke="#111" stroke-width="1.3"/>
<line x1="295" y1="176.3" x2="304.9" y2="176.3" stroke="#111" stroke-width="1.3"/>
<line x1="319.6" y1="165.2" x2="330" y2="165.2" stroke="#111" stroke-width="1.3"/>
<line x1="335" y1="173.5" x2="344.3" y2="173.5" stroke="#111" stroke-width="1.3"/>
<line x1="395.2" y1="158.7" x2="395.2" y2="216.6" stroke="#111" stroke-width="1.1"/>
<line x1="392" y1="216.1" x2="395.2" y2="216.1" stroke="#111" stroke-width="0.9"/>
<text x="388.9" y="218.1" font-size="5.5" fill="#231f20" text-anchor="end" stroke="#231f20" stroke-width="0.16">0</text>
<line x1="392" y1="205.06" x2="395.2" y2="205.06" stroke="#111" stroke-width="0.9"/>
<text x="388.9" y="207.06" font-size="5.5" fill="#231f20" text-anchor="end" textLength="6" lengthAdjust="spacingAndGlyphs" stroke="#231f20" stroke-width="0.16">20</text>
<line x1="392" y1="194.02" x2="395.2" y2="194.02" stroke="#111" stroke-width="0.9"/>
<text x="388.9" y="196.02" font-size="5.5" fill="#231f20" text-anchor="end" textLength="6" lengthAdjust="spacingAndGlyphs" stroke="#231f20" stroke-width="0.16">40</text>
<line x1="392" y1="182.98" x2="395.2" y2="182.98" stroke="#111" stroke-width="0.9"/>
<text x="388.9" y="184.98" font-size="5.5" fill="#231f20" text-anchor="end" textLength="6" lengthAdjust="spacingAndGlyphs" stroke="#231f20" stroke-width="0.16">60</text>
<line x1="392" y1="171.94" x2="395.2" y2="171.94" stroke="#111" stroke-width="0.9"/>
<text x="388.9" y="173.94" font-size="5.5" fill="#231f20" text-anchor="end" textLength="6" lengthAdjust="spacingAndGlyphs" stroke="#231f20" stroke-width="0.16">80</text>
<line x1="392" y1="160.9" x2="395.2" y2="160.9" stroke="#111" stroke-width="0.9"/>
<text x="388.9" y="162.9" font-size="5.5" fill="#231f20" text-anchor="end" textLength="9.2" lengthAdjust="spacingAndGlyphs" stroke="#231f20" stroke-width="0.16">100</text>
<line x1="394.7" y1="216.1" x2="476.2" y2="216.1" stroke="#111" stroke-width="1.1"/>
<line x1="415.5" y1="216.1" x2="415.5" y2="218.7" stroke="#111" stroke-width="0.9"/>
<text x="415.5" y="226.6" font-size="5.4" fill="#231f20" text-anchor="middle" textLength="6.6" lengthAdjust="spacingAndGlyphs" stroke="#231f20" stroke-width="0.16">RF</text>
<line x1="456.2" y1="216.1" x2="456.2" y2="218.7" stroke="#111" stroke-width="0.9"/>
<text x="456.2" y="226.6" font-size="5.4" fill="#231f20" text-anchor="middle" textLength="8.2" lengthAdjust="spacingAndGlyphs" stroke="#231f20" stroke-width="0.16">BM</text>
<text x="366.1" y="186.7" font-size="6.9" fill="#231f20" text-anchor="middle" textLength="40.2" lengthAdjust="spacingAndGlyphs" transform="rotate(-90 366.1 186.7)" stroke="#231f20" stroke-width="0.21">% reduction by</text>
<text x="374.5" y="186.7" font-size="6.9" fill="#231f20" text-anchor="middle" textLength="26.2" lengthAdjust="spacingAndGlyphs" transform="rotate(-90 374.5 186.7)" stroke="#231f20" stroke-width="0.21">CC-90009</text>
<circle cx="409.2" cy="144.9" r="1.6" fill="#a4b97a"/>
<text x="414" y="146.4" font-size="4.6" fill="#231f20" textLength="44.6" lengthAdjust="spacingAndGlyphs" stroke="#231f20" stroke-width="0.11">Cytogenetically normal</text>
<rect x="408" y="150.8" width="3" height="4" fill="#b8611a"/>
<text x="414.3" y="154.3" font-size="4.6" fill="#231f20" textLength="49.6" lengthAdjust="spacingAndGlyphs" stroke="#231f20" stroke-width="0.11">Cytogenetically abnormal</text>
<circle cx="405.6" cy="160.6" r="1.65" fill="#a4b97a"/>
<circle cx="411" cy="160.6" r="1.65" fill="#a4b97a"/>
<circle cx="405.6" cy="165.3" r="1.65" fill="#a4b97a"/>
<circle cx="411" cy="165.3" r="1.65" fill="#a4b97a"/>
<circle cx="408" cy="167.6" r="1.65" fill="#a4b97a"/>
<circle cx="408.3" cy="162.5" r="1.65" fill="#a4b97a"/>
<circle cx="404.9" cy="182.5" r="1.65" fill="#a4b97a"/>
<circle cx="408" cy="187.6" r="1.65" fill="#a4b97a"/>
<circle cx="410.3" cy="190.5" r="1.65" fill="#a4b97a"/>
<circle cx="404.9" cy="192.8" r="1.65" fill="#a4b97a"/>
<circle cx="405.6" cy="208.8" r="1.65" fill="#a4b97a"/>
<circle cx="410.3" cy="211.6" r="1.65" fill="#a4b97a"/>
<circle cx="405.6" cy="214" r="1.65" fill="#a4b97a"/>
<circle cx="408" cy="215.9" r="1.65" fill="#a4b97a"/>
<circle cx="406.8" cy="215.9" r="1.65" fill="#a4b97a"/>
<circle cx="445.6" cy="160.6" r="1.65" fill="#a4b97a"/>
<circle cx="451.5" cy="160.6" r="1.65" fill="#a4b97a"/>
<circle cx="448.6" cy="163.6" r="1.65" fill="#a4b97a"/>
<circle cx="446.8" cy="167.6" r="1.65" fill="#a4b97a"/>
<circle cx="450" cy="165" r="1.65" fill="#a4b97a"/>
<circle cx="446.3" cy="175.4" r="1.65" fill="#a4b97a"/>
<circle cx="451" cy="178.7" r="1.65" fill="#a4b97a"/>
<circle cx="448.6" cy="187.2" r="1.65" fill="#a4b97a"/>
<circle cx="448.6" cy="200.6" r="1.65" fill="#a4b97a"/>
<circle cx="446.3" cy="215.9" r="1.65" fill="#a4b97a"/>
<circle cx="451" cy="215.4" r="1.65" fill="#a4b97a"/>
<rect x="418.2" y="159.1" width="3" height="3" fill="#b8611a"/>
<rect x="422.9" y="159.1" width="3" height="3" fill="#b8611a"/>
<rect x="420.5" y="162.1" width="3" height="3" fill="#b8611a"/>
<rect x="420" y="159.5" width="3" height="3" fill="#b8611a"/>
<rect x="422.9" y="173.9" width="3" height="3" fill="#b8611a"/>
<rect x="418.9" y="176.3" width="3" height="3" fill="#b8611a"/>
<rect x="422.2" y="178.6" width="3" height="3" fill="#b8611a"/>
<rect x="421.3" y="205" width="3" height="3" fill="#b8611a"/>
<rect x="418.2" y="210.1" width="3" height="3" fill="#b8611a"/>
<rect x="421.3" y="214.5" width="3" height="3" fill="#b8611a"/>
<rect x="424.1" y="214.5" width="3" height="3" fill="#b8611a"/>
<rect x="458.9" y="159.1" width="3" height="3" fill="#b8611a"/>
<rect x="462.2" y="159.1" width="3" height="3" fill="#b8611a"/>
<rect x="465.3" y="159.1" width="3" height="3" fill="#b8611a"/>
<rect x="460.5" y="160.5" width="3" height="3" fill="#b8611a"/>
<rect x="463.5" y="160.5" width="3" height="3" fill="#b8611a"/>
<rect x="462.2" y="172" width="3" height="3" fill="#b8611a"/>
<rect x="462.2" y="177.9" width="3" height="3" fill="#b8611a"/>
<rect x="465.3" y="179.5" width="3" height="3" fill="#b8611a"/>
<rect x="460.1" y="183.8" width="3" height="3" fill="#b8611a"/>
<rect x="460.1" y="200.3" width="3" height="3" fill="#b8611a"/>
<rect x="464.5" y="203.8" width="3" height="3" fill="#b8611a"/>
<rect x="462.2" y="214.5" width="3" height="3" fill="#b8611a"/>
<line x1="403.2" y1="177.8" x2="412.6" y2="177.8" stroke="#111" stroke-width="1.3"/>
<line x1="417.4" y1="174.7" x2="428" y2="174.7" stroke="#111" stroke-width="1.3"/>
<line x1="443.2" y1="166" x2="453.4" y2="166" stroke="#111" stroke-width="1.3"/>
<line x1="458.5" y1="162.2" x2="468.4" y2="162.2" stroke="#111" stroke-width="1.3"/>
<line x1="272.2" y1="251.5" x2="272.2" y2="309.6" stroke="#111" stroke-width="1.1"/>
<line x1="269" y1="309.1" x2="272.2" y2="309.1" stroke="#111" stroke-width="0.9"/>
<text x="265.9" y="311.1" font-size="5.5" fill="#231f20" text-anchor="end" stroke="#231f20" stroke-width="0.16">0</text>
<line x1="269" y1="298.02" x2="272.2" y2="298.02" stroke="#111" stroke-width="0.9"/>
<text x="265.9" y="300.02" font-size="5.5" fill="#231f20" text-anchor="end" textLength="6" lengthAdjust="spacingAndGlyphs" stroke="#231f20" stroke-width="0.16">20</text>
<line x1="269" y1="286.94" x2="272.2" y2="286.94" stroke="#111" stroke-width="0.9"/>
<text x="265.9" y="288.94" font-size="5.5" fill="#231f20" text-anchor="end" textLength="6" lengthAdjust="spacingAndGlyphs" stroke="#231f20" stroke-width="0.16">40</text>
<line x1="269" y1="275.86" x2="272.2" y2="275.86" stroke="#111" stroke-width="0.9"/>
<text x="265.9" y="277.86" font-size="5.5" fill="#231f20" text-anchor="end" textLength="6" lengthAdjust="spacingAndGlyphs" stroke="#231f20" stroke-width="0.16">60</text>
<line x1="269" y1="264.78" x2="272.2" y2="264.78" stroke="#111" stroke-width="0.9"/>
<text x="265.9" y="266.78" font-size="5.5" fill="#231f20" text-anchor="end" textLength="6" lengthAdjust="spacingAndGlyphs" stroke="#231f20" stroke-width="0.16">80</text>
<line x1="269" y1="253.7" x2="272.2" y2="253.7" stroke="#111" stroke-width="0.9"/>
<text x="265.9" y="255.7" font-size="5.5" fill="#231f20" text-anchor="end" textLength="9.2" lengthAdjust="spacingAndGlyphs" stroke="#231f20" stroke-width="0.16">100</text>
<line x1="271.7" y1="309.1" x2="353.8" y2="309.1" stroke="#111" stroke-width="1.1"/>
<line x1="292.9" y1="309.1" x2="292.9" y2="311.7" stroke="#111" stroke-width="0.9"/>
<text x="292.9" y="319.6" font-size="5.4" fill="#231f20" text-anchor="middle" textLength="6.6" lengthAdjust="spacingAndGlyphs" stroke="#231f20" stroke-width="0.16">RF</text>
<line x1="333.3" y1="309.1" x2="333.3" y2="311.7" stroke="#111" stroke-width="0.9"/>
<text x="333.3" y="319.6" font-size="5.4" fill="#231f20" text-anchor="middle" textLength="8.2" lengthAdjust="spacingAndGlyphs" stroke="#231f20" stroke-width="0.16">BM</text>
<text x="244.1" y="280.2" font-size="6.9" fill="#231f20" text-anchor="middle" textLength="40.2" lengthAdjust="spacingAndGlyphs" transform="rotate(-90 244.1 280.2)" stroke="#231f20" stroke-width="0.21">% reduction by</text>
<text x="252.3" y="280.2" font-size="6.9" fill="#231f20" text-anchor="middle" textLength="26.2" lengthAdjust="spacingAndGlyphs" transform="rotate(-90 252.3 280.2)" stroke="#231f20" stroke-width="0.21">CC-90009</text>
<circle cx="299.2" cy="238" r="1.6" fill="#a4b97a"/>
<text x="304" y="239.5" font-size="4.6" fill="#231f20" textLength="25.1" lengthAdjust="spacingAndGlyphs" stroke="#231f20" stroke-width="0.11">Intermediate</text>
<rect x="297.7" y="243.6" width="3" height="4" fill="#b8611a"/>
<text x="304" y="247.1" font-size="4.6" fill="#231f20" textLength="16.5" lengthAdjust="spacingAndGlyphs" stroke="#231f20" stroke-width="0.11">Adverse</text>
<circle cx="283.4" cy="253.7" r="1.65" fill="#a4b97a"/>
<circle cx="287.5" cy="253.7" r="1.65" fill="#a4b97a"/>
<circle cx="283.4" cy="257.2" r="1.65" fill="#a4b97a"/>
<circle cx="287.5" cy="257.2" r="1.65" fill="#a4b97a"/>
<circle cx="285.5" cy="259.3" r="1.65" fill="#a4b97a"/>
<circle cx="285.5" cy="261.9" r="1.65" fill="#a4b97a"/>
<circle cx="283.4" cy="269.5" r="1.65" fill="#a4b97a"/>
<circle cx="285.5" cy="275.7" r="1.65" fill="#a4b97a"/>
<circle cx="285.5" cy="280.9" r="1.65" fill="#a4b97a"/>
<circle cx="287.5" cy="284" r="1.65" fill="#a4b97a"/>
<circle cx="283.4" cy="286" r="1.65" fill="#a4b97a"/>
<circle cx="283.4" cy="299.8" r="1.65" fill="#a4b97a"/>
<circle cx="287.5" cy="301.9" r="1.65" fill="#a4b97a"/>
<circle cx="283.4" cy="304.5" r="1.65" fill="#a4b97a"/>
<circle cx="287.5" cy="307.2" r="1.65" fill="#a4b97a"/>
<circle cx="285.5" cy="309.5" r="1.65" fill="#a4b97a"/>
<circle cx="283.6" cy="309.5" r="1.65" fill="#a4b97a"/>
<circle cx="323.5" cy="254.1" r="1.65" fill="#a4b97a"/>
<circle cx="327.8" cy="254.1" r="1.65" fill="#a4b97a"/>
<circle cx="325" cy="256.7" r="1.65" fill="#a4b97a"/>
<circle cx="326.3" cy="258.4" r="1.65" fill="#a4b97a"/>
<circle cx="324" cy="258" r="1.65" fill="#a4b97a"/>
<circle cx="325.7" cy="268.7" r="1.65" fill="#a4b97a"/>
<circle cx="323.5" cy="272.3" r="1.65" fill="#a4b97a"/>
<circle cx="327.8" cy="272.3" r="1.65" fill="#a4b97a"/>
<circle cx="325.7" cy="275.2" r="1.65" fill="#a4b97a"/>
<circle cx="327.8" cy="278" r="1.65" fill="#a4b97a"/>
<circle cx="323.5" cy="280.6" r="1.65" fill="#a4b97a"/>
<circle cx="323.5" cy="293.7" r="1.65" fill="#a4b97a"/>
<circle cx="327.8" cy="298" r="1.65" fill="#a4b97a"/>
<circle cx="323.5" cy="308.6" r="1.65" fill="#a4b97a"/>
<circle cx="327.8" cy="308" r="1.65" fill="#a4b97a"/>
<rect x="295.7" y="252.2" width="3" height="3" fill="#b8611a"/>
<rect x="301.2" y="252.2" width="3" height="3" fill="#b8611a"/>
<rect x="297.7" y="256.3" width="3" height="3" fill="#b8611a"/>
<rect x="296.3" y="267.4" width="3" height="3" fill="#b8611a"/>
<rect x="301.2" y="272.2" width="3" height="3" fill="#b8611a"/>
<rect x="301.2" y="303" width="3" height="3" fill="#b8611a"/>
<rect x="296.3" y="307.8" width="3" height="3" fill="#b8611a"/>
<rect x="336.1" y="251.3" width="3" height="3" fill="#b8611a"/>
<rect x="338.7" y="251.3" width="3" height="3" fill="#b8611a"/>
<rect x="341.5" y="251.3" width="3" height="3" fill="#b8611a"/>
<rect x="338.7" y="254.8" width="3" height="3" fill="#b8611a"/>
<rect x="338.7" y="265.6" width="3" height="3" fill="#b8611a"/>
<rect x="338.7" y="293.2" width="3" height="3" fill="#b8611a"/>
<rect x="338.7" y="307.8" width="3" height="3" fill="#b8611a"/>
<line x1="280.1" y1="271" x2="290.4" y2="271" stroke="#111" stroke-width="1.3"/>
<line x1="294.5" y1="256.6" x2="305.4" y2="256.6" stroke="#111" stroke-width="1.3"/>
<line x1="320.7" y1="261" x2="330.7" y2="261" stroke="#111" stroke-width="1.3"/>
<line x1="335.9" y1="255" x2="345.9" y2="255" stroke="#111" stroke-width="1.3"/>
<line x1="394.9" y1="252.1" x2="394.9" y2="309.6" stroke="#111" stroke-width="1.1"/>
<line x1="391.7" y1="309.1" x2="394.9" y2="309.1" stroke="#111" stroke-width="0.9"/>
<text x="388.6" y="311.1" font-size="5.5" fill="#231f20" text-anchor="end" stroke="#231f20" stroke-width="0.16">0</text>
<line x1="391.7" y1="298.14" x2="394.9" y2="298.14" stroke="#111" stroke-width="0.9"/>
<text x="388.6" y="300.14" font-size="5.5" fill="#231f20" text-anchor="end" textLength="6" lengthAdjust="spacingAndGlyphs" stroke="#231f20" stroke-width="0.16">20</text>
<line x1="391.7" y1="287.18" x2="394.9" y2="287.18" stroke="#111" stroke-width="0.9"/>
<text x="388.6" y="289.18" font-size="5.5" fill="#231f20" text-anchor="end" textLength="6" lengthAdjust="spacingAndGlyphs" stroke="#231f20" stroke-width="0.16">40</text>
<line x1="391.7" y1="276.22" x2="394.9" y2="276.22" stroke="#111" stroke-width="0.9"/>
<text x="388.6" y="278.22" font-size="5.5" fill="#231f20" text-anchor="end" textLength="6" lengthAdjust="spacingAndGlyphs" stroke="#231f20" stroke-width="0.16">60</text>
<line x1="391.7" y1="265.26" x2="394.9" y2="265.26" stroke="#111" stroke-width="0.9"/>
<text x="388.6" y="267.26" font-size="5.5" fill="#231f20" text-anchor="end" textLength="6" lengthAdjust="spacingAndGlyphs" stroke="#231f20" stroke-width="0.16">80</text>
<line x1="391.7" y1="254.3" x2="394.9" y2="254.3" stroke="#111" stroke-width="0.9"/>
<text x="388.6" y="256.3" font-size="5.5" fill="#231f20" text-anchor="end" textLength="9.2" lengthAdjust="spacingAndGlyphs" stroke="#231f20" stroke-width="0.16">100</text>
<line x1="394.4" y1="309.1" x2="475.6" y2="309.1" stroke="#111" stroke-width="1.1"/>
<line x1="415.4" y1="309.1" x2="415.4" y2="311.7" stroke="#111" stroke-width="0.9"/>
<text x="415.4" y="319.6" font-size="5.4" fill="#231f20" text-anchor="middle" textLength="6.6" lengthAdjust="spacingAndGlyphs" stroke="#231f20" stroke-width="0.16">RF</text>
<line x1="455.8" y1="309.1" x2="455.8" y2="311.7" stroke="#111" stroke-width="0.9"/>
<text x="455.8" y="319.6" font-size="5.4" fill="#231f20" text-anchor="middle" textLength="8.2" lengthAdjust="spacingAndGlyphs" stroke="#231f20" stroke-width="0.16">BM</text>
<text x="366.1" y="280.2" font-size="6.9" fill="#231f20" text-anchor="middle" textLength="40.2" lengthAdjust="spacingAndGlyphs" transform="rotate(-90 366.1 280.2)" stroke="#231f20" stroke-width="0.21">% reduction by</text>
<text x="374.5" y="280.2" font-size="6.9" fill="#231f20" text-anchor="middle" textLength="26.2" lengthAdjust="spacingAndGlyphs" transform="rotate(-90 374.5 280.2)" stroke="#231f20" stroke-width="0.21">CC-90009</text>
<circle cx="423.7" cy="237.7" r="1.6" fill="#a4b97a"/>
<text x="428.5" y="239.2" font-size="4.6" fill="#231f20" textLength="19.2" lengthAdjust="spacingAndGlyphs" stroke="#231f20" stroke-width="0.11">LSC17low</text>
<rect x="422.3" y="243.6" width="3" height="4" fill="#b8611a"/>
<text x="428.6" y="247.1" font-size="4.6" fill="#231f20" textLength="21.1" lengthAdjust="spacingAndGlyphs" stroke="#231f20" stroke-width="0.11">LSC17high</text>
<circle cx="405.3" cy="254.9" r="1.65" fill="#a4b97a"/>
<circle cx="412.4" cy="256.3" r="1.65" fill="#a4b97a"/>
<circle cx="409.8" cy="258.8" r="1.65" fill="#a4b97a"/>
<circle cx="405.3" cy="261.8" r="1.65" fill="#a4b97a"/>
<circle cx="405.3" cy="271.3" r="1.65" fill="#a4b97a"/>
<circle cx="409.8" cy="271.3" r="1.65" fill="#a4b97a"/>
<circle cx="407.8" cy="273.2" r="1.65" fill="#a4b97a"/>
<circle cx="407.8" cy="308.7" r="1.65" fill="#a4b97a"/>
<circle cx="445.3" cy="254.9" r="1.65" fill="#a4b97a"/>
<circle cx="450.4" cy="254.9" r="1.65" fill="#a4b97a"/>
<circle cx="447.8" cy="260.8" r="1.65" fill="#a4b97a"/>
<circle cx="447.8" cy="266.7" r="1.65" fill="#a4b97a"/>
<circle cx="447.8" cy="274.6" r="1.65" fill="#a4b97a"/>
<circle cx="447.8" cy="298.3" r="1.65" fill="#a4b97a"/>
<rect x="417.2" y="252.4" width="3" height="3" fill="#b8611a"/>
<rect x="420.1" y="252.4" width="3" height="3" fill="#b8611a"/>
<rect x="424.1" y="252.4" width="3" height="3" fill="#b8611a"/>
<rect x="418.2" y="255.4" width="3" height="3" fill="#b8611a"/>
<rect x="422.7" y="255.4" width="3" height="3" fill="#b8611a"/>
<rect x="420.7" y="257.3" width="3" height="3" fill="#b8611a"/>
<rect x="420.7" y="268.2" width="3" height="3" fill="#b8611a"/>
<rect x="420.7" y="274.1" width="3" height="3" fill="#b8611a"/>
<rect x="421.5" y="279.6" width="3" height="3" fill="#b8611a"/>
<rect x="424.1" y="282.4" width="3" height="3" fill="#b8611a"/>
<rect x="418.7" y="284.4" width="3" height="3" fill="#b8611a"/>
<rect x="416.8" y="298.2" width="3" height="3" fill="#b8611a"/>
<rect x="425.5" y="300.7" width="3" height="3" fill="#b8611a"/>
<rect x="419.1" y="302.7" width="3" height="3" fill="#b8611a"/>
<rect x="423.5" y="304.1" width="3" height="3" fill="#b8611a"/>
<rect x="418.2" y="307.2" width="3" height="3" fill="#b8611a"/>
<rect x="422.1" y="307.2" width="3" height="3" fill="#b8611a"/>
<rect x="420.1" y="307.2" width="3" height="3" fill="#b8611a"/>
<rect x="458.2" y="252" width="3" height="3" fill="#b8611a"/>
<rect x="461.1" y="252" width="3" height="3" fill="#b8611a"/>
<rect x="464.1" y="252" width="3" height="3" fill="#b8611a"/>
<rect x="459.1" y="257.9" width="3" height="3" fill="#b8611a"/>
<rect x="462.1" y="260.3" width="3" height="3" fill="#b8611a"/>
<rect x="464.1" y="260.7" width="3" height="3" fill="#b8611a"/>
<rect x="464.7" y="267.2" width="3" height="3" fill="#b8611a"/>
<rect x="459.1" y="270.6" width="3" height="3" fill="#b8611a"/>
<rect x="462.1" y="271.2" width="3" height="3" fill="#b8611a"/>
<rect x="464.1" y="277.1" width="3" height="3" fill="#b8611a"/>
<rect x="459.1" y="278.5" width="3" height="3" fill="#b8611a"/>
<rect x="459.1" y="292.3" width="3" height="3" fill="#b8611a"/>
<rect x="464.1" y="293.8" width="3" height="3" fill="#b8611a"/>
<rect x="459.1" y="306.1" width="3" height="3" fill="#b8611a"/>
<rect x="462.1" y="307.2" width="3" height="3" fill="#b8611a"/>
<rect x="464.1" y="307.2" width="3" height="3" fill="#b8611a"/>
<line x1="402.5" y1="266.7" x2="412.8" y2="266.7" stroke="#111" stroke-width="1.3"/>
<line x1="417.7" y1="268.7" x2="427.5" y2="268.7" stroke="#111" stroke-width="1.3"/>
<line x1="443.3" y1="259.8" x2="452.8" y2="259.8" stroke="#111" stroke-width="1.3"/>
<line x1="458.3" y1="256.3" x2="467.5" y2="256.3" stroke="#111" stroke-width="1.3"/>
<rect x="0.5" y="0.5" width="519" height="339" fill="none" stroke="#000" stroke-width="1"/>
</svg></body></html>
